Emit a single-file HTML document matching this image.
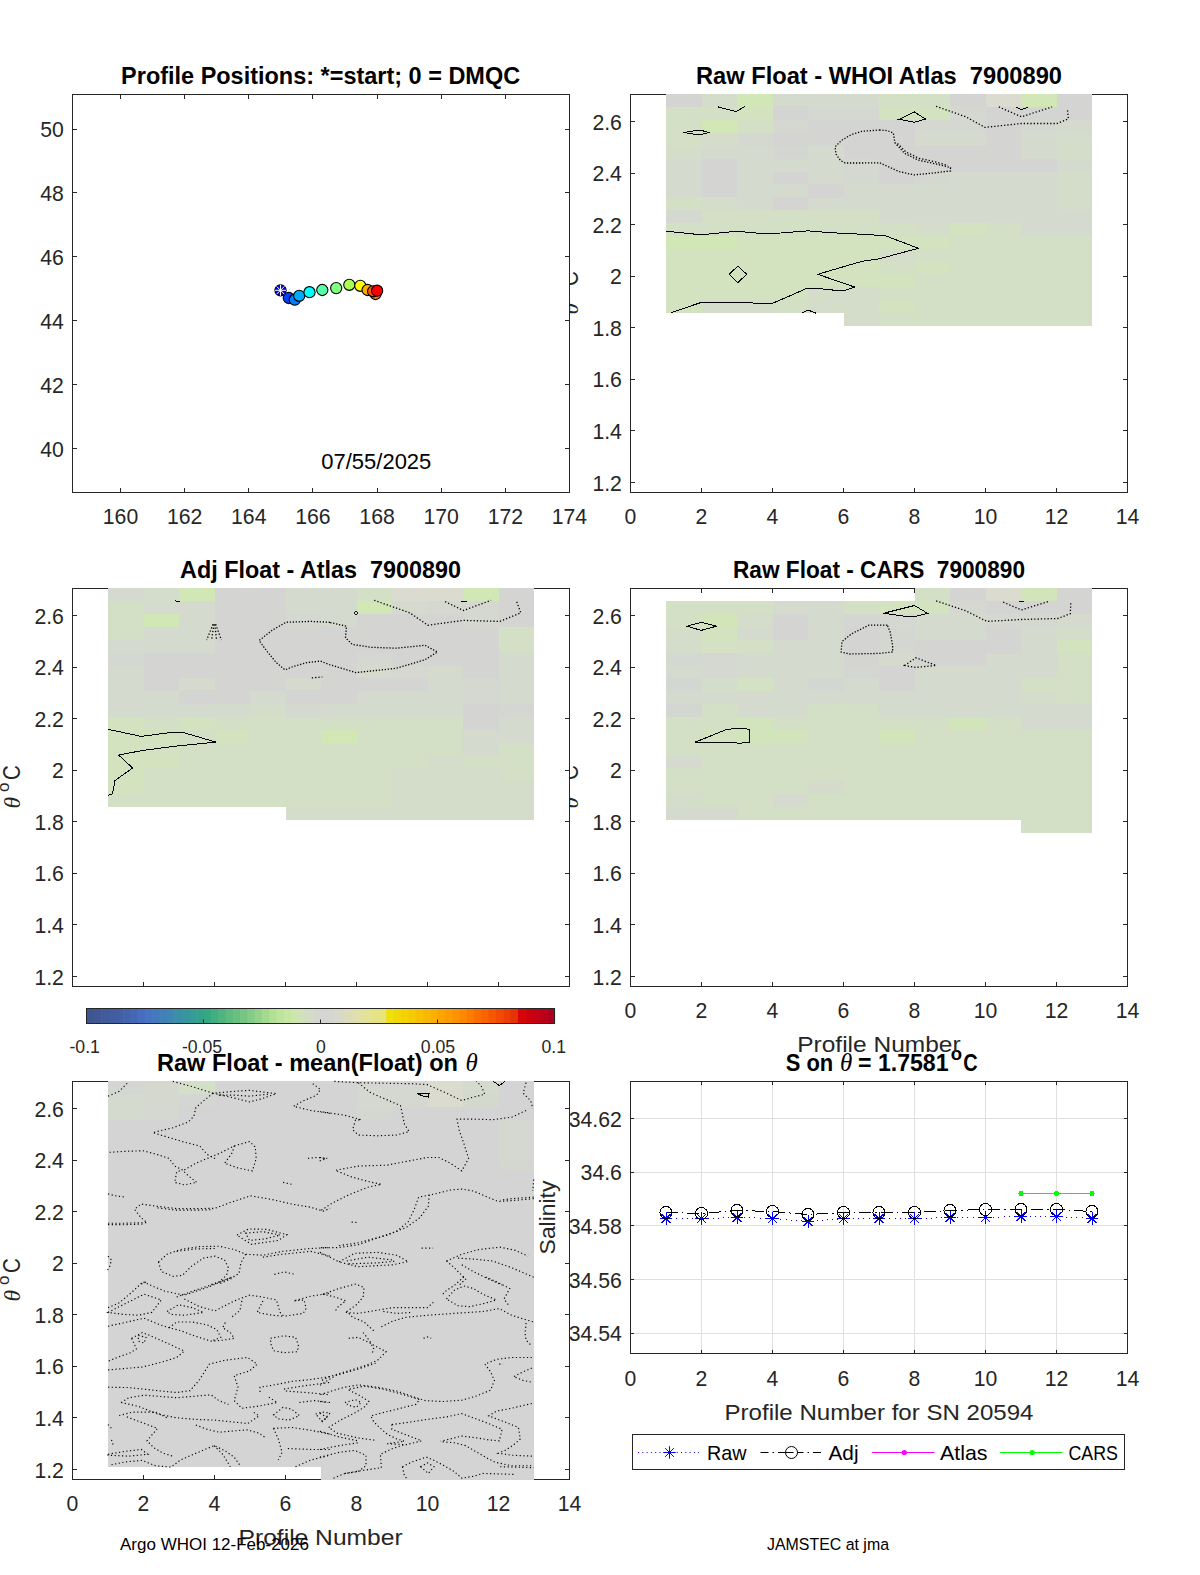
<!DOCTYPE html>
<html><head><meta charset="utf-8"><title>Float 7900890 diagnostic</title>
<style>
html,body{margin:0;padding:0;background:#fff}
body{width:1200px;height:1575px;overflow:hidden}
svg{display:block;font-family:"Liberation Sans",sans-serif}
.m{font-family:"Liberation Serif",serif;font-style:italic}
</style></head><body>
<svg width="1200" height="1575" viewBox="0 0 1200 1575">
<rect width="1200" height="1575" fill="#fff"/>
<g transform="translate(578 293.5) rotate(-90)" fill="#262626"><text x="-21" y="0" font-size="23.5" class="m">θ</text><text x="-4.4" y="-11.4" font-size="17">o</text><text x="7.4" y="0" font-size="24.5" textLength="14.8" lengthAdjust="spacingAndGlyphs">C</text></g>
<g transform="translate(578 787.5) rotate(-90)" fill="#262626"><text x="-21" y="0" font-size="23.5" class="m">θ</text><text x="-4.4" y="-11.4" font-size="17">o</text><text x="7.4" y="0" font-size="24.5" textLength="14.8" lengthAdjust="spacingAndGlyphs">C</text></g>
<text x="621.9" y="1126.6" font-size="22" text-anchor="end" fill="#262626" textLength="53.12" lengthAdjust="spacingAndGlyphs">34.62</text>
<text x="621.9" y="1180.3" font-size="22" text-anchor="end" fill="#262626" textLength="41.31" lengthAdjust="spacingAndGlyphs">34.6</text>
<text x="621.9" y="1234" font-size="22" text-anchor="end" fill="#262626" textLength="53.12" lengthAdjust="spacingAndGlyphs">34.58</text>
<text x="621.9" y="1287.7" font-size="22" text-anchor="end" fill="#262626" textLength="53.12" lengthAdjust="spacingAndGlyphs">34.56</text>
<text x="621.9" y="1341.4" font-size="22" text-anchor="end" fill="#262626" textLength="53.12" lengthAdjust="spacingAndGlyphs">34.54</text>
<text transform="translate(554.5 1217.5) rotate(-90)" font-size="22.9" text-anchor="middle" fill="#262626">Salinity</text>
<rect x="72.5" y="94.5" width="497" height="398" fill="#fff"/>
<rect x="72.5" y="588.5" width="497" height="398" fill="#fff"/>
<rect x="72.5" y="1081.5" width="497" height="398" fill="#fff"/>
<text transform="translate(554.5 1217.5) rotate(-90)" font-size="22.9" text-anchor="middle" fill="#262626">Salinity</text>
<path d="M630.5 492.5v-4.5M630.5 94.5v4.5M701.5 492.5v-4.5M701.5 94.5v4.5M772.5 492.5v-4.5M772.5 94.5v4.5M843.5 492.5v-4.5M843.5 94.5v4.5M914.5 492.5v-4.5M914.5 94.5v4.5M985.5 492.5v-4.5M985.5 94.5v4.5M1056.5 492.5v-4.5M1056.5 94.5v4.5M1127.5 492.5v-4.5M1127.5 94.5v4.5M630.5 121.5h4.5M1127.5 121.5h-4.5M630.5 173.5h4.5M1127.5 173.5h-4.5M630.5 224.5h4.5M1127.5 224.5h-4.5M630.5 276.5h4.5M1127.5 276.5h-4.5M630.5 327.5h4.5M1127.5 327.5h-4.5M630.5 379.5h4.5M1127.5 379.5h-4.5M630.5 430.5h4.5M1127.5 430.5h-4.5M630.5 482.5h4.5M1127.5 482.5h-4.5" stroke="#262626" stroke-width="1" fill="none"/>
<rect x="630.5" y="94.5" width="497" height="398" fill="none" stroke="#262626" stroke-width="1"/>
<path d="M72.5 986.5v-4.5M72.5 588.5v4.5M143.5 986.5v-4.5M143.5 588.5v4.5M214.5 986.5v-4.5M214.5 588.5v4.5M285.5 986.5v-4.5M285.5 588.5v4.5M356.5 986.5v-4.5M356.5 588.5v4.5M427.5 986.5v-4.5M427.5 588.5v4.5M498.5 986.5v-4.5M498.5 588.5v4.5M569.5 986.5v-4.5M569.5 588.5v4.5M72.5 615.5h4.5M569.5 615.5h-4.5M72.5 667.5h4.5M569.5 667.5h-4.5M72.5 718.5h4.5M569.5 718.5h-4.5M72.5 770.5h4.5M569.5 770.5h-4.5M72.5 821.5h4.5M569.5 821.5h-4.5M72.5 873.5h4.5M569.5 873.5h-4.5M72.5 924.5h4.5M569.5 924.5h-4.5M72.5 976.5h4.5M569.5 976.5h-4.5" stroke="#262626" stroke-width="1" fill="none"/>
<rect x="72.5" y="588.5" width="497" height="398" fill="none" stroke="#262626" stroke-width="1"/>
<path d="M630.5 986.5v-4.5M630.5 588.5v4.5M701.5 986.5v-4.5M701.5 588.5v4.5M772.5 986.5v-4.5M772.5 588.5v4.5M843.5 986.5v-4.5M843.5 588.5v4.5M914.5 986.5v-4.5M914.5 588.5v4.5M985.5 986.5v-4.5M985.5 588.5v4.5M1056.5 986.5v-4.5M1056.5 588.5v4.5M1127.5 986.5v-4.5M1127.5 588.5v4.5M630.5 615.5h4.5M1127.5 615.5h-4.5M630.5 667.5h4.5M1127.5 667.5h-4.5M630.5 718.5h4.5M1127.5 718.5h-4.5M630.5 770.5h4.5M1127.5 770.5h-4.5M630.5 821.5h4.5M1127.5 821.5h-4.5M630.5 873.5h4.5M1127.5 873.5h-4.5M630.5 924.5h4.5M1127.5 924.5h-4.5M630.5 976.5h4.5M1127.5 976.5h-4.5" stroke="#262626" stroke-width="1" fill="none"/>
<rect x="630.5" y="588.5" width="497" height="398" fill="none" stroke="#262626" stroke-width="1"/>
<path d="M72.5 1479.5v-4.5M72.5 1081.5v4.5M143.5 1479.5v-4.5M143.5 1081.5v4.5M214.5 1479.5v-4.5M214.5 1081.5v4.5M285.5 1479.5v-4.5M285.5 1081.5v4.5M356.5 1479.5v-4.5M356.5 1081.5v4.5M427.5 1479.5v-4.5M427.5 1081.5v4.5M498.5 1479.5v-4.5M498.5 1081.5v4.5M569.5 1479.5v-4.5M569.5 1081.5v4.5M72.5 1108.5h4.5M569.5 1108.5h-4.5M72.5 1160.5h4.5M569.5 1160.5h-4.5M72.5 1211.5h4.5M569.5 1211.5h-4.5M72.5 1263.5h4.5M569.5 1263.5h-4.5M72.5 1314.5h4.5M569.5 1314.5h-4.5M72.5 1366.5h4.5M569.5 1366.5h-4.5M72.5 1417.5h4.5M569.5 1417.5h-4.5M72.5 1469.5h4.5M569.5 1469.5h-4.5" stroke="#262626" stroke-width="1" fill="none"/>
<rect x="72.5" y="1081.5" width="497" height="398" fill="none" stroke="#262626" stroke-width="1"/>
<g shape-rendering="crispEdges">
<rect x="666" y="94.3" width="35.6" height="12.97" fill="rgb(212,213,211)"/>
<rect x="666" y="107.17" width="35.6" height="38.71" fill="rgb(212,224,197)"/>
<rect x="666" y="145.78" width="35.6" height="12.97" fill="rgb(212,221,201)"/>
<rect x="666" y="158.65" width="35.6" height="38.71" fill="rgb(212,218,205)"/>
<rect x="666" y="197.26" width="35.6" height="12.97" fill="rgb(212,224,197)"/>
<rect x="666" y="210.13" width="35.6" height="12.97" fill="rgb(212,216,208)"/>
<rect x="666" y="223" width="35.6" height="12.97" fill="rgb(212,224,197)"/>
<rect x="666" y="235.87" width="35.6" height="12.97" fill="rgb(209,231,182)"/>
<rect x="666" y="248.74" width="35.6" height="64.45" fill="rgb(211,227,191)"/>
<rect x="701.5" y="94.3" width="35.6" height="12.97" fill="rgb(212,221,201)"/>
<rect x="701.5" y="107.17" width="35.6" height="12.97" fill="rgb(212,224,197)"/>
<rect x="701.5" y="120.04" width="35.6" height="12.97" fill="rgb(209,231,182)"/>
<rect x="701.5" y="132.91" width="35.6" height="12.97" fill="rgb(212,221,201)"/>
<rect x="701.5" y="145.78" width="35.6" height="12.97" fill="rgb(212,218,205)"/>
<rect x="701.5" y="158.65" width="35.6" height="38.71" fill="rgb(212,213,211)"/>
<rect x="701.5" y="197.26" width="35.6" height="12.97" fill="rgb(212,221,201)"/>
<rect x="701.5" y="210.13" width="35.6" height="25.84" fill="rgb(212,224,197)"/>
<rect x="701.5" y="235.87" width="35.6" height="12.97" fill="rgb(209,231,182)"/>
<rect x="701.5" y="248.74" width="35.6" height="51.58" fill="rgb(211,227,191)"/>
<rect x="701.5" y="300.22" width="35.6" height="12.97" fill="rgb(212,221,201)"/>
<rect x="737" y="94.3" width="35.6" height="12.97" fill="rgb(209,231,182)"/>
<rect x="737" y="107.17" width="35.6" height="12.97" fill="rgb(211,227,191)"/>
<rect x="737" y="120.04" width="35.6" height="12.97" fill="rgb(212,224,197)"/>
<rect x="737" y="132.91" width="35.6" height="12.97" fill="rgb(212,216,208)"/>
<rect x="737" y="145.78" width="35.6" height="64.45" fill="rgb(212,218,205)"/>
<rect x="737" y="210.13" width="35.6" height="25.84" fill="rgb(212,224,197)"/>
<rect x="737" y="235.87" width="35.6" height="64.45" fill="rgb(211,227,191)"/>
<rect x="737" y="300.22" width="35.6" height="12.97" fill="rgb(212,221,201)"/>
<rect x="772.5" y="94.3" width="35.6" height="12.97" fill="rgb(212,218,205)"/>
<rect x="772.5" y="107.17" width="35.6" height="12.97" fill="rgb(212,213,211)"/>
<rect x="772.5" y="120.04" width="35.6" height="12.97" fill="rgb(212,216,208)"/>
<rect x="772.5" y="132.91" width="35.6" height="12.97" fill="rgb(212,213,211)"/>
<rect x="772.5" y="145.78" width="35.6" height="12.97" fill="rgb(212,215,209)"/>
<rect x="772.5" y="158.65" width="35.6" height="12.97" fill="rgb(212,218,205)"/>
<rect x="772.5" y="171.52" width="35.6" height="12.97" fill="rgb(212,213,211)"/>
<rect x="772.5" y="184.39" width="35.6" height="12.97" fill="rgb(212,218,205)"/>
<rect x="772.5" y="197.26" width="35.6" height="12.97" fill="rgb(212,213,211)"/>
<rect x="772.5" y="210.13" width="35.6" height="25.84" fill="rgb(212,224,197)"/>
<rect x="772.5" y="235.87" width="35.6" height="64.45" fill="rgb(211,227,191)"/>
<rect x="772.5" y="300.22" width="35.6" height="12.97" fill="rgb(212,224,197)"/>
<rect x="808" y="94.3" width="35.6" height="12.97" fill="rgb(212,218,205)"/>
<rect x="808" y="107.17" width="35.6" height="12.97" fill="rgb(212,216,208)"/>
<rect x="808" y="120.04" width="35.6" height="25.84" fill="rgb(212,213,211)"/>
<rect x="808" y="145.78" width="35.6" height="38.71" fill="rgb(212,218,205)"/>
<rect x="808" y="184.39" width="35.6" height="12.97" fill="rgb(212,213,211)"/>
<rect x="808" y="197.26" width="35.6" height="12.97" fill="rgb(212,218,205)"/>
<rect x="808" y="210.13" width="35.6" height="25.84" fill="rgb(212,224,197)"/>
<rect x="808" y="235.87" width="35.6" height="51.58" fill="rgb(211,227,191)"/>
<rect x="808" y="287.35" width="35.6" height="25.84" fill="rgb(212,221,201)"/>
<rect x="843.5" y="94.3" width="35.6" height="12.97" fill="rgb(212,218,205)"/>
<rect x="843.5" y="107.17" width="35.6" height="12.97" fill="rgb(212,216,208)"/>
<rect x="843.5" y="120.04" width="35.6" height="38.71" fill="rgb(212,213,211)"/>
<rect x="843.5" y="158.65" width="35.6" height="25.84" fill="rgb(212,216,208)"/>
<rect x="843.5" y="184.39" width="35.6" height="25.84" fill="rgb(212,218,205)"/>
<rect x="843.5" y="210.13" width="35.6" height="25.84" fill="rgb(212,224,197)"/>
<rect x="843.5" y="235.87" width="35.6" height="51.58" fill="rgb(211,227,191)"/>
<rect x="843.5" y="287.35" width="35.6" height="38.71" fill="rgb(212,221,201)"/>
<rect x="879" y="94.3" width="35.6" height="12.97" fill="rgb(212,224,197)"/>
<rect x="879" y="107.17" width="35.6" height="12.97" fill="rgb(211,227,191)"/>
<rect x="879" y="120.04" width="35.6" height="64.45" fill="rgb(212,213,211)"/>
<rect x="879" y="184.39" width="35.6" height="38.71" fill="rgb(212,218,205)"/>
<rect x="879" y="223" width="35.6" height="12.97" fill="rgb(212,224,197)"/>
<rect x="879" y="235.87" width="35.6" height="12.97" fill="rgb(211,227,191)"/>
<rect x="879" y="248.74" width="35.6" height="12.97" fill="rgb(212,221,201)"/>
<rect x="879" y="261.61" width="35.6" height="12.97" fill="rgb(212,224,197)"/>
<rect x="879" y="274.48" width="35.6" height="12.97" fill="rgb(211,227,191)"/>
<rect x="879" y="287.35" width="35.6" height="12.97" fill="rgb(212,224,197)"/>
<rect x="879" y="300.22" width="35.6" height="12.97" fill="rgb(211,227,191)"/>
<rect x="879" y="313.09" width="35.6" height="12.97" fill="rgb(212,224,197)"/>
<rect x="914.5" y="94.3" width="35.6" height="12.97" fill="rgb(212,224,197)"/>
<rect x="914.5" y="107.17" width="35.6" height="12.97" fill="rgb(211,227,191)"/>
<rect x="914.5" y="120.04" width="35.6" height="12.97" fill="rgb(212,216,208)"/>
<rect x="914.5" y="132.91" width="35.6" height="12.97" fill="rgb(212,218,205)"/>
<rect x="914.5" y="145.78" width="35.6" height="25.84" fill="rgb(212,213,211)"/>
<rect x="914.5" y="171.52" width="35.6" height="12.97" fill="rgb(212,216,208)"/>
<rect x="914.5" y="184.39" width="35.6" height="38.71" fill="rgb(212,218,205)"/>
<rect x="914.5" y="223" width="35.6" height="12.97" fill="rgb(212,221,201)"/>
<rect x="914.5" y="235.87" width="35.6" height="12.97" fill="rgb(211,227,191)"/>
<rect x="914.5" y="248.74" width="35.6" height="12.97" fill="rgb(212,224,197)"/>
<rect x="914.5" y="261.61" width="35.6" height="12.97" fill="rgb(211,227,191)"/>
<rect x="914.5" y="274.48" width="35.6" height="51.58" fill="rgb(212,224,197)"/>
<rect x="950" y="94.3" width="35.6" height="12.97" fill="rgb(212,213,211)"/>
<rect x="950" y="107.17" width="35.6" height="25.84" fill="rgb(212,216,208)"/>
<rect x="950" y="132.91" width="35.6" height="12.97" fill="rgb(212,218,205)"/>
<rect x="950" y="145.78" width="35.6" height="25.84" fill="rgb(212,213,211)"/>
<rect x="950" y="171.52" width="35.6" height="51.58" fill="rgb(212,218,205)"/>
<rect x="950" y="223" width="35.6" height="12.97" fill="rgb(211,227,191)"/>
<rect x="950" y="235.87" width="35.6" height="90.19" fill="rgb(212,224,197)"/>
<rect x="985.5" y="94.3" width="35.6" height="12.97" fill="rgb(219,219,207)"/>
<rect x="985.5" y="107.17" width="35.6" height="64.45" fill="rgb(212,213,211)"/>
<rect x="985.5" y="171.52" width="35.6" height="51.58" fill="rgb(212,218,205)"/>
<rect x="985.5" y="223" width="35.6" height="103.06" fill="rgb(212,224,197)"/>
<rect x="1021" y="94.3" width="35.6" height="12.97" fill="rgb(209,231,182)"/>
<rect x="1021" y="107.17" width="35.6" height="12.97" fill="rgb(212,213,211)"/>
<rect x="1021" y="120.04" width="35.6" height="12.97" fill="rgb(212,216,208)"/>
<rect x="1021" y="132.91" width="35.6" height="25.84" fill="rgb(212,218,205)"/>
<rect x="1021" y="158.65" width="35.6" height="12.97" fill="rgb(212,213,211)"/>
<rect x="1021" y="171.52" width="35.6" height="64.45" fill="rgb(212,218,205)"/>
<rect x="1021" y="235.87" width="35.6" height="90.19" fill="rgb(212,224,197)"/>
<rect x="1056.5" y="94.3" width="35.6" height="25.84" fill="rgb(212,213,211)"/>
<rect x="1056.5" y="120.04" width="35.6" height="12.97" fill="rgb(212,218,205)"/>
<rect x="1056.5" y="132.91" width="35.6" height="25.84" fill="rgb(212,221,201)"/>
<rect x="1056.5" y="158.65" width="35.6" height="12.97" fill="rgb(212,218,205)"/>
<rect x="1056.5" y="171.52" width="35.6" height="38.71" fill="rgb(212,221,201)"/>
<rect x="1056.5" y="210.13" width="35.6" height="25.84" fill="rgb(212,218,205)"/>
<rect x="1056.5" y="235.87" width="35.6" height="90.19" fill="rgb(212,224,197)"/>
<polyline points="666,231.2 701.3,234.8 737,231.2 760,233.4 781,233 808,230.8 828.7,232.6 863.5,234.3 885.3,235.7 918.3,248.3 879.6,258.7 861.7,261.4 817.7,274.3 854.7,287.1 845.2,290.2 834.2,290.2 817.7,288.4 806.7,288.4 784.7,298.1 771.8,303.6 755.3,303.6 751.7,302.7 700.3,302.7 671,312.8" fill="none" stroke="#000" stroke-width="1.0"/>
<polygon points="729.1,274.3 737.9,266 746.7,274.3 737.9,282.6" fill="none" stroke="#000" stroke-width="1.0"/>
<polyline points="718.1,106.9 736.1,111.6 744.7,106.5" fill="none" stroke="#000" stroke-width="1.0"/>
<polygon points="685.1,132.5 688.5,131.5 700.7,130.2 708.6,132.5 700.7,134.8 688.5,133.6" fill="none" stroke="#000" stroke-width="1.0"/>
<polyline points="802.1,312.8 808.1,310 815.8,313.1" fill="none" stroke="#000" stroke-width="1.0"/>
<polygon points="899.1,119.3 914.5,112 925.6,119.1 914.5,122.2" fill="none" stroke="#000" stroke-width="1.0"/>
<polyline points="1016.6,107.3 1021.4,109.6 1027.6,107.6" fill="none" stroke="#000" stroke-width="1.0"/>
<polygon points="880,130 861.7,131.3 850.7,134.9 841.5,140.4 835.1,146.8 836,154.2 840.6,160.6 845.2,163 861.7,163 879.6,162.8 898.8,171.5 914.1,174.9 935.2,172.8 950.5,170.9 950.5,167.6 935.2,163.8 917.9,160 904.5,153.3 894.9,142.7 893.4,133.1 887.3,130.6" fill="none" stroke="#000" stroke-width="1.3" stroke-dasharray="1.3 1.7" shape-rendering="geometricPrecision"/>
<polyline points="897.5,143.5 906,152 919,158.3 936,162 948,165.5" fill="none" stroke="#000" stroke-width="1.3" stroke-dasharray="1.3 2" shape-rendering="geometricPrecision"/>
<polyline points="936.1,106.3 965.8,116.8 985,127.4 1021.4,123.5 1056.9,123.5 1068.4,118.8 1067.4,109.2" fill="none" stroke="#000" stroke-width="1.3" stroke-dasharray="1.3 2" shape-rendering="geometricPrecision"/>
<polyline points="998.8,106.9 1021.4,116.8 1052.1,106.9" fill="none" stroke="#000" stroke-width="1.3" stroke-dasharray="1.3 2" shape-rendering="geometricPrecision"/>
<rect x="108" y="588.3" width="35.6" height="12.97" fill="rgb(212,218,205)"/>
<rect x="108" y="601.17" width="35.6" height="38.71" fill="rgb(212,224,197)"/>
<rect x="108" y="639.78" width="35.6" height="12.97" fill="rgb(212,218,205)"/>
<rect x="108" y="652.65" width="35.6" height="12.97" fill="rgb(212,216,208)"/>
<rect x="108" y="665.52" width="35.6" height="51.58" fill="rgb(212,218,205)"/>
<rect x="108" y="717" width="35.6" height="77.32" fill="rgb(211,227,191)"/>
<rect x="108" y="794.22" width="35.6" height="12.97" fill="rgb(212,224,197)"/>
<rect x="143.5" y="588.3" width="35.6" height="12.97" fill="rgb(212,221,201)"/>
<rect x="143.5" y="601.17" width="35.6" height="12.97" fill="rgb(212,218,205)"/>
<rect x="143.5" y="614.04" width="35.6" height="12.97" fill="rgb(209,231,182)"/>
<rect x="143.5" y="626.91" width="35.6" height="25.84" fill="rgb(212,218,205)"/>
<rect x="143.5" y="652.65" width="35.6" height="38.71" fill="rgb(212,213,211)"/>
<rect x="143.5" y="691.26" width="35.6" height="25.84" fill="rgb(212,218,205)"/>
<rect x="143.5" y="717" width="35.6" height="12.97" fill="rgb(212,224,197)"/>
<rect x="143.5" y="729.87" width="35.6" height="12.97" fill="rgb(211,227,191)"/>
<rect x="143.5" y="742.74" width="35.6" height="12.97" fill="rgb(212,225,195)"/>
<rect x="143.5" y="755.61" width="35.6" height="12.97" fill="rgb(211,227,191)"/>
<rect x="143.5" y="768.48" width="35.6" height="38.71" fill="rgb(212,224,197)"/>
<rect x="179" y="588.3" width="35.6" height="12.97" fill="rgb(209,231,182)"/>
<rect x="179" y="601.17" width="35.6" height="51.58" fill="rgb(212,218,205)"/>
<rect x="179" y="652.65" width="35.6" height="25.84" fill="rgb(212,213,211)"/>
<rect x="179" y="678.39" width="35.6" height="12.97" fill="rgb(212,218,205)"/>
<rect x="179" y="691.26" width="35.6" height="12.97" fill="rgb(212,213,211)"/>
<rect x="179" y="704.13" width="35.6" height="12.97" fill="rgb(212,218,205)"/>
<rect x="179" y="717" width="35.6" height="12.97" fill="rgb(211,227,191)"/>
<rect x="179" y="729.87" width="35.6" height="77.32" fill="rgb(212,224,197)"/>
<rect x="214.5" y="588.3" width="35.6" height="115.93" fill="rgb(212,213,211)"/>
<rect x="214.5" y="704.13" width="35.6" height="12.97" fill="rgb(212,218,205)"/>
<rect x="214.5" y="717" width="35.6" height="12.97" fill="rgb(212,224,197)"/>
<rect x="214.5" y="729.87" width="35.6" height="12.97" fill="rgb(211,227,191)"/>
<rect x="214.5" y="742.74" width="35.6" height="64.45" fill="rgb(212,224,197)"/>
<rect x="250" y="588.3" width="35.6" height="103.06" fill="rgb(212,213,211)"/>
<rect x="250" y="691.26" width="35.6" height="12.97" fill="rgb(212,218,205)"/>
<rect x="250" y="704.13" width="35.6" height="12.97" fill="rgb(212,221,201)"/>
<rect x="250" y="717" width="35.6" height="90.19" fill="rgb(212,224,197)"/>
<rect x="285.5" y="588.3" width="35.6" height="25.84" fill="rgb(212,218,205)"/>
<rect x="285.5" y="614.04" width="35.6" height="12.97" fill="rgb(212,216,208)"/>
<rect x="285.5" y="626.91" width="35.6" height="51.58" fill="rgb(212,213,211)"/>
<rect x="285.5" y="678.39" width="35.6" height="12.97" fill="rgb(212,218,205)"/>
<rect x="285.5" y="691.26" width="35.6" height="12.97" fill="rgb(212,213,211)"/>
<rect x="285.5" y="704.13" width="35.6" height="12.97" fill="rgb(212,216,208)"/>
<rect x="285.5" y="717" width="35.6" height="90.19" fill="rgb(212,224,197)"/>
<rect x="285.5" y="807.09" width="35.6" height="12.97" fill="rgb(212,221,201)"/>
<rect x="321" y="588.3" width="35.6" height="38.71" fill="rgb(212,218,205)"/>
<rect x="321" y="626.91" width="35.6" height="77.32" fill="rgb(212,213,211)"/>
<rect x="321" y="704.13" width="35.6" height="12.97" fill="rgb(212,218,205)"/>
<rect x="321" y="717" width="35.6" height="12.97" fill="rgb(212,224,197)"/>
<rect x="321" y="729.87" width="35.6" height="12.97" fill="rgb(209,231,182)"/>
<rect x="321" y="742.74" width="35.6" height="64.45" fill="rgb(212,224,197)"/>
<rect x="321" y="807.09" width="35.6" height="12.97" fill="rgb(212,221,201)"/>
<rect x="356.5" y="588.3" width="35.6" height="12.97" fill="rgb(212,224,197)"/>
<rect x="356.5" y="601.17" width="35.6" height="12.97" fill="rgb(209,231,182)"/>
<rect x="356.5" y="614.04" width="35.6" height="38.71" fill="rgb(212,213,211)"/>
<rect x="356.5" y="652.65" width="35.6" height="12.97" fill="rgb(212,216,208)"/>
<rect x="356.5" y="665.52" width="35.6" height="12.97" fill="rgb(212,218,205)"/>
<rect x="356.5" y="678.39" width="35.6" height="12.97" fill="rgb(212,213,211)"/>
<rect x="356.5" y="691.26" width="35.6" height="25.84" fill="rgb(212,218,205)"/>
<rect x="356.5" y="717" width="35.6" height="90.19" fill="rgb(212,224,197)"/>
<rect x="356.5" y="807.09" width="35.6" height="12.97" fill="rgb(212,221,201)"/>
<rect x="392" y="588.3" width="35.6" height="12.97" fill="rgb(219,219,207)"/>
<rect x="392" y="601.17" width="35.6" height="12.97" fill="rgb(212,218,205)"/>
<rect x="392" y="614.04" width="35.6" height="51.58" fill="rgb(212,213,211)"/>
<rect x="392" y="665.52" width="35.6" height="12.97" fill="rgb(212,216,208)"/>
<rect x="392" y="678.39" width="35.6" height="12.97" fill="rgb(212,213,211)"/>
<rect x="392" y="691.26" width="35.6" height="25.84" fill="rgb(212,218,205)"/>
<rect x="392" y="717" width="35.6" height="51.58" fill="rgb(212,224,197)"/>
<rect x="392" y="768.48" width="35.6" height="51.58" fill="rgb(212,220,202)"/>
<rect x="427.5" y="588.3" width="35.6" height="12.97" fill="rgb(219,219,207)"/>
<rect x="427.5" y="601.17" width="35.6" height="12.97" fill="rgb(212,216,208)"/>
<rect x="427.5" y="614.04" width="35.6" height="51.58" fill="rgb(212,213,211)"/>
<rect x="427.5" y="665.52" width="35.6" height="51.58" fill="rgb(212,218,205)"/>
<rect x="427.5" y="717" width="35.6" height="38.71" fill="rgb(212,224,197)"/>
<rect x="427.5" y="755.61" width="35.6" height="64.45" fill="rgb(212,220,202)"/>
<rect x="463" y="588.3" width="35.6" height="12.97" fill="rgb(209,231,182)"/>
<rect x="463" y="601.17" width="35.6" height="25.84" fill="rgb(212,216,208)"/>
<rect x="463" y="626.91" width="35.6" height="51.58" fill="rgb(212,213,211)"/>
<rect x="463" y="678.39" width="35.6" height="25.84" fill="rgb(212,216,208)"/>
<rect x="463" y="704.13" width="35.6" height="25.84" fill="rgb(212,213,211)"/>
<rect x="463" y="729.87" width="35.6" height="25.84" fill="rgb(212,218,205)"/>
<rect x="463" y="755.61" width="35.6" height="12.97" fill="rgb(212,224,197)"/>
<rect x="463" y="768.48" width="35.6" height="51.58" fill="rgb(212,220,202)"/>
<rect x="498.5" y="588.3" width="35.6" height="38.71" fill="rgb(212,213,211)"/>
<rect x="498.5" y="626.91" width="35.6" height="25.84" fill="rgb(212,224,197)"/>
<rect x="498.5" y="652.65" width="35.6" height="51.58" fill="rgb(212,218,205)"/>
<rect x="498.5" y="704.13" width="35.6" height="12.97" fill="rgb(212,215,209)"/>
<rect x="498.5" y="717" width="35.6" height="25.84" fill="rgb(212,218,205)"/>
<rect x="498.5" y="742.74" width="35.6" height="38.71" fill="rgb(212,224,197)"/>
<rect x="498.5" y="781.35" width="35.6" height="38.71" fill="rgb(212,220,202)"/>
<polyline points="108,729.3 141.2,736.4 174.8,732 181.5,732 216,742.1 176.7,746 143.1,750.4 118.6,755 132.6,768 115,780.5 112.5,793.9 108,795.4" fill="none" stroke="#000" stroke-width="1.0"/>
<polyline points="174.8,600.3 177.6,601.6 180.1,601.6" fill="none" stroke="#000" stroke-width="1.0"/>
<polyline points="213.03,624.3 206.7,640" fill="none" stroke="#000" stroke-width="1.3" stroke-dasharray="1.3 2" shape-rendering="geometricPrecision"/>
<polyline points="213.9,624.3 211.6,640" fill="none" stroke="#000" stroke-width="1.3" stroke-dasharray="1.3 2" shape-rendering="geometricPrecision"/>
<polyline points="214.78,624.3 216.5,640" fill="none" stroke="#000" stroke-width="1.3" stroke-dasharray="1.3 2" shape-rendering="geometricPrecision"/>
<polyline points="215.65,624.3 221.4,640" fill="none" stroke="#000" stroke-width="1.3" stroke-dasharray="1.3 2" shape-rendering="geometricPrecision"/>
<polygon points="330,622.3 310.9,621.4 285.9,622.3 272.5,630 259.1,640.5 266.8,651.1 276.3,662.6 285,669.9 293.6,666.4 307,662.6 320.4,661.1 329.2,664.5 356,672.6 396.3,668.3 425,659.7 437.5,652 425,645.3 396.3,648.2 371.3,647.3 352.2,644.4 345.5,637.7 346.4,626.2 329.2,622.3" fill="none" stroke="#000" stroke-width="1.3" stroke-dasharray="1.3 1.7" shape-rendering="geometricPrecision"/>
<polyline points="311.8,677.9 322.3,677" fill="none" stroke="#000" stroke-width="1.3" stroke-dasharray="1.3 2" shape-rendering="geometricPrecision"/>
<polyline points="374.2,600.3 409.7,612.8 427.9,625.2 463.3,620.4 499.8,621.4 520.8,612.8 516.6,601.3" fill="none" stroke="#000" stroke-width="1.3" stroke-dasharray="1.3 2" shape-rendering="geometricPrecision"/>
<polyline points="445.1,601.6 463.3,610.5 491.1,600.3" fill="none" stroke="#000" stroke-width="1.3" stroke-dasharray="1.3 2" shape-rendering="geometricPrecision"/>
<polyline points="461.4,601.6 467.2,601.6" fill="none" stroke="#000" stroke-width="1.0"/>
<circle cx="356" cy="613.1" r="1.4" fill="none" stroke="#000" stroke-width="0.9"/>
<rect x="666" y="601.17" width="35.6" height="25.84" fill="rgb(212,224,197)"/>
<rect x="666" y="626.91" width="35.6" height="25.84" fill="rgb(212,221,201)"/>
<rect x="666" y="652.65" width="35.6" height="12.97" fill="rgb(212,216,208)"/>
<rect x="666" y="665.52" width="35.6" height="12.97" fill="rgb(212,218,205)"/>
<rect x="666" y="678.39" width="35.6" height="12.97" fill="rgb(212,215,209)"/>
<rect x="666" y="691.26" width="35.6" height="12.97" fill="rgb(212,218,205)"/>
<rect x="666" y="704.13" width="35.6" height="12.97" fill="rgb(212,215,209)"/>
<rect x="666" y="717" width="35.6" height="38.71" fill="rgb(212,224,197)"/>
<rect x="666" y="755.61" width="35.6" height="12.97" fill="rgb(212,218,205)"/>
<rect x="666" y="768.48" width="35.6" height="25.84" fill="rgb(212,224,197)"/>
<rect x="666" y="794.22" width="35.6" height="12.97" fill="rgb(212,220,202)"/>
<rect x="666" y="807.09" width="35.6" height="12.97" fill="rgb(212,218,205)"/>
<rect x="701.5" y="601.17" width="35.6" height="12.97" fill="rgb(212,224,197)"/>
<rect x="701.5" y="614.04" width="35.6" height="12.97" fill="rgb(210,229,186)"/>
<rect x="701.5" y="626.91" width="35.6" height="12.97" fill="rgb(211,227,191)"/>
<rect x="701.5" y="639.78" width="35.6" height="12.97" fill="rgb(212,225,195)"/>
<rect x="701.5" y="652.65" width="35.6" height="25.84" fill="rgb(212,216,208)"/>
<rect x="701.5" y="678.39" width="35.6" height="12.97" fill="rgb(212,220,202)"/>
<rect x="701.5" y="691.26" width="35.6" height="12.97" fill="rgb(212,218,205)"/>
<rect x="701.5" y="704.13" width="35.6" height="25.84" fill="rgb(212,224,197)"/>
<rect x="701.5" y="729.87" width="35.6" height="12.97" fill="rgb(211,227,191)"/>
<rect x="701.5" y="742.74" width="35.6" height="64.45" fill="rgb(212,224,197)"/>
<rect x="701.5" y="807.09" width="35.6" height="12.97" fill="rgb(212,218,205)"/>
<rect x="737" y="601.17" width="35.6" height="12.97" fill="rgb(212,224,197)"/>
<rect x="737" y="614.04" width="35.6" height="12.97" fill="rgb(212,221,201)"/>
<rect x="737" y="626.91" width="35.6" height="12.97" fill="rgb(212,218,205)"/>
<rect x="737" y="639.78" width="35.6" height="12.97" fill="rgb(212,224,197)"/>
<rect x="737" y="652.65" width="35.6" height="25.84" fill="rgb(212,218,205)"/>
<rect x="737" y="678.39" width="35.6" height="12.97" fill="rgb(211,226,194)"/>
<rect x="737" y="691.26" width="35.6" height="25.84" fill="rgb(212,218,205)"/>
<rect x="737" y="717" width="35.6" height="12.97" fill="rgb(210,228,188)"/>
<rect x="737" y="729.87" width="35.6" height="12.97" fill="rgb(210,229,186)"/>
<rect x="737" y="742.74" width="35.6" height="77.32" fill="rgb(212,224,197)"/>
<rect x="772.5" y="601.17" width="35.6" height="12.97" fill="rgb(212,218,205)"/>
<rect x="772.5" y="614.04" width="35.6" height="25.84" fill="rgb(212,213,211)"/>
<rect x="772.5" y="639.78" width="35.6" height="77.32" fill="rgb(212,218,205)"/>
<rect x="772.5" y="717" width="35.6" height="12.97" fill="rgb(212,224,197)"/>
<rect x="772.5" y="729.87" width="35.6" height="12.97" fill="rgb(210,228,188)"/>
<rect x="772.5" y="742.74" width="35.6" height="51.58" fill="rgb(212,224,197)"/>
<rect x="772.5" y="794.22" width="35.6" height="12.97" fill="rgb(212,218,205)"/>
<rect x="772.5" y="807.09" width="35.6" height="12.97" fill="rgb(212,224,197)"/>
<rect x="808" y="601.17" width="35.6" height="77.32" fill="rgb(212,218,205)"/>
<rect x="808" y="678.39" width="35.6" height="12.97" fill="rgb(212,215,209)"/>
<rect x="808" y="691.26" width="35.6" height="12.97" fill="rgb(212,218,205)"/>
<rect x="808" y="704.13" width="35.6" height="77.32" fill="rgb(212,224,197)"/>
<rect x="808" y="781.35" width="35.6" height="12.97" fill="rgb(212,219,203)"/>
<rect x="808" y="794.22" width="35.6" height="25.84" fill="rgb(212,224,197)"/>
<rect x="843.5" y="601.17" width="35.6" height="12.97" fill="rgb(212,224,197)"/>
<rect x="843.5" y="614.04" width="35.6" height="12.97" fill="rgb(212,215,209)"/>
<rect x="843.5" y="626.91" width="35.6" height="38.71" fill="rgb(212,213,211)"/>
<rect x="843.5" y="665.52" width="35.6" height="12.97" fill="rgb(212,215,209)"/>
<rect x="843.5" y="678.39" width="35.6" height="25.84" fill="rgb(212,218,205)"/>
<rect x="843.5" y="704.13" width="35.6" height="115.93" fill="rgb(212,224,197)"/>
<rect x="879" y="601.17" width="35.6" height="12.97" fill="rgb(211,227,191)"/>
<rect x="879" y="614.04" width="35.6" height="12.97" fill="rgb(212,216,208)"/>
<rect x="879" y="626.91" width="35.6" height="25.84" fill="rgb(212,215,209)"/>
<rect x="879" y="652.65" width="35.6" height="12.97" fill="rgb(212,218,205)"/>
<rect x="879" y="665.52" width="35.6" height="25.84" fill="rgb(212,213,211)"/>
<rect x="879" y="691.26" width="35.6" height="25.84" fill="rgb(212,218,205)"/>
<rect x="879" y="717" width="35.6" height="12.97" fill="rgb(212,224,197)"/>
<rect x="879" y="729.87" width="35.6" height="12.97" fill="rgb(210,229,186)"/>
<rect x="879" y="742.74" width="35.6" height="77.32" fill="rgb(212,224,197)"/>
<rect x="914.5" y="588.3" width="35.6" height="12.97" fill="rgb(212,224,197)"/>
<rect x="914.5" y="601.17" width="35.6" height="12.97" fill="rgb(211,227,191)"/>
<rect x="914.5" y="614.04" width="35.6" height="25.84" fill="rgb(212,218,205)"/>
<rect x="914.5" y="639.78" width="35.6" height="25.84" fill="rgb(212,213,211)"/>
<rect x="914.5" y="665.52" width="35.6" height="51.58" fill="rgb(212,218,205)"/>
<rect x="914.5" y="717" width="35.6" height="103.06" fill="rgb(212,224,197)"/>
<rect x="950" y="588.3" width="35.6" height="12.97" fill="rgb(212,213,211)"/>
<rect x="950" y="601.17" width="35.6" height="12.97" fill="rgb(212,216,208)"/>
<rect x="950" y="614.04" width="35.6" height="25.84" fill="rgb(212,218,205)"/>
<rect x="950" y="639.78" width="35.6" height="25.84" fill="rgb(212,213,211)"/>
<rect x="950" y="665.52" width="35.6" height="51.58" fill="rgb(212,218,205)"/>
<rect x="950" y="717" width="35.6" height="12.97" fill="rgb(210,229,186)"/>
<rect x="950" y="729.87" width="35.6" height="90.19" fill="rgb(212,224,197)"/>
<rect x="985.5" y="588.3" width="35.6" height="12.97" fill="rgb(219,219,207)"/>
<rect x="985.5" y="601.17" width="35.6" height="12.97" fill="rgb(212,213,211)"/>
<rect x="985.5" y="614.04" width="35.6" height="12.97" fill="rgb(212,216,208)"/>
<rect x="985.5" y="626.91" width="35.6" height="25.84" fill="rgb(212,213,211)"/>
<rect x="985.5" y="652.65" width="35.6" height="64.45" fill="rgb(212,218,205)"/>
<rect x="985.5" y="717" width="35.6" height="103.06" fill="rgb(212,224,197)"/>
<rect x="1021" y="588.3" width="35.6" height="12.97" fill="rgb(210,229,186)"/>
<rect x="1021" y="601.17" width="35.6" height="12.97" fill="rgb(212,213,211)"/>
<rect x="1021" y="614.04" width="35.6" height="12.97" fill="rgb(212,216,208)"/>
<rect x="1021" y="626.91" width="35.6" height="51.58" fill="rgb(212,218,205)"/>
<rect x="1021" y="678.39" width="35.6" height="12.97" fill="rgb(212,224,197)"/>
<rect x="1021" y="691.26" width="35.6" height="12.97" fill="rgb(212,220,202)"/>
<rect x="1021" y="704.13" width="35.6" height="25.84" fill="rgb(212,218,205)"/>
<rect x="1021" y="729.87" width="35.6" height="103.06" fill="rgb(212,224,197)"/>
<rect x="1056.5" y="588.3" width="35.6" height="25.84" fill="rgb(212,213,211)"/>
<rect x="1056.5" y="614.04" width="35.6" height="12.97" fill="rgb(212,218,205)"/>
<rect x="1056.5" y="626.91" width="35.6" height="12.97" fill="rgb(212,221,201)"/>
<rect x="1056.5" y="639.78" width="35.6" height="12.97" fill="rgb(211,227,191)"/>
<rect x="1056.5" y="652.65" width="35.6" height="51.58" fill="rgb(212,224,197)"/>
<rect x="1056.5" y="704.13" width="35.6" height="25.84" fill="rgb(212,218,205)"/>
<rect x="1056.5" y="729.87" width="35.6" height="103.06" fill="rgb(212,224,197)"/>
<polygon points="687.1,626.2 701.1,622.3 716.5,626.2 701.1,630.4" fill="none" stroke="#000" stroke-width="1.0"/>
<polygon points="695.4,742.1 727,729.3 744.3,728.1 749.6,729.7 749.6,742.3 741.4,743.1" fill="none" stroke="#000" stroke-width="1.0"/>
<polygon points="883.4,613.3 914.5,605.5 927.5,613.3 914.5,616.6 904.5,616.2" fill="none" stroke="#000" stroke-width="1.0"/>
<polygon points="887.3,625.2 868.9,625.2 851.6,633.8 842,641.5 841.1,652 849.7,654 879.6,653.4 892.6,652 892.6,645.3 890.1,631.9" fill="none" stroke="#000" stroke-width="1.3" stroke-dasharray="1.3 1.7" shape-rendering="geometricPrecision"/>
<polygon points="904.5,665.5 916,657.8 936.1,665.5 916,667.4" fill="none" stroke="#000" stroke-width="1.3" stroke-dasharray="1.3 2" shape-rendering="geometricPrecision"/>
<polyline points="936.1,600.9 965.8,610.8 986.9,621.4 1021.4,619.5 1057.8,618.5 1070.3,613.7 1070.9,601.3" fill="none" stroke="#000" stroke-width="1.3" stroke-dasharray="1.3 2" shape-rendering="geometricPrecision"/>
<polyline points="1003.2,602.2 1021.4,609.9 1049.2,601.3" fill="none" stroke="#000" stroke-width="1.3" stroke-dasharray="1.3 2" shape-rendering="geometricPrecision"/>
<polyline points="1019.1,601.3 1024.3,601.3" fill="none" stroke="#000" stroke-width="1.0"/>
<rect x="108" y="1081.3" width="213.2" height="385.7" fill="rgb(212,212,212)"/>
<rect x="321" y="1081.3" width="213" height="398.2" fill="rgb(212,212,212)"/>
<rect x="108" y="1081.3" width="35.6" height="12.97" fill="rgb(212,215,209)"/>
<rect x="108" y="1094.17" width="35.6" height="25.84" fill="rgb(212,218,205)"/>
<rect x="143.5" y="1081.3" width="35.6" height="25.84" fill="rgb(212,216,207)"/>
<rect x="143.5" y="1107.04" width="35.6" height="12.97" fill="rgb(212,216,208)"/>
<rect x="179" y="1081.3" width="35.6" height="12.97" fill="rgb(212,223,199)"/>
<rect x="179" y="1094.17" width="35.6" height="12.97" fill="rgb(212,214,210)"/>
<rect x="356.5" y="1081.3" width="35.6" height="25.84" fill="rgb(212,216,208)"/>
<rect x="356.5" y="1107.04" width="35.6" height="12.97" fill="rgb(212,215,209)"/>
<rect x="392" y="1081.3" width="35.6" height="25.84" fill="rgb(212,216,208)"/>
<rect x="427.5" y="1081.3" width="35.6" height="25.84" fill="rgb(219,219,207)"/>
<rect x="463" y="1081.3" width="35.6" height="12.97" fill="rgb(212,218,205)"/>
<rect x="463" y="1094.17" width="35.6" height="12.97" fill="rgb(212,217,206)"/>
<rect x="498.5" y="1119.91" width="35.6" height="38.71" fill="rgb(212,216,208)"/>
<rect x="498.5" y="1158.52" width="35.6" height="12.97" fill="rgb(212,215,208)"/>
<polyline points="108.05,1096.13 119.17,1091.33 127.79,1082.71" fill="none" stroke="#000" stroke-width="1.15" stroke-dasharray="1.2 2.5" shape-rendering="geometricPrecision"/>
<polyline points="172.84,1081.37 192.01,1086.54 213.09,1093.25 234.18,1091.33 249.51,1090.38 276.35,1093.63 261.01,1099 249.51,1101.88 234.18,1098.04 213.09,1093.25" fill="none" stroke="#000" stroke-width="1.15" stroke-dasharray="1.2 2.5" shape-rendering="geometricPrecision"/>
<polyline points="218.84,1095.17 234.18,1095.17 249.51,1096.13 268.68,1094.21" fill="none" stroke="#000" stroke-width="1.15" stroke-dasharray="1.2 2.5" shape-rendering="geometricPrecision"/>
<polyline points="213.09,1093.25 203.51,1100.92 195.84,1107.63 193.92,1116.25 188.17,1122 172.84,1127.75 152.71,1132.55 165.17,1136.38 184.34,1142.13 199.67,1145.96 207.34,1154.59 215.01,1158.42" fill="none" stroke="#000" stroke-width="1.15" stroke-dasharray="1.2 2.5" shape-rendering="geometricPrecision"/>
<polyline points="109.58,1152.29 124.92,1151.33 143.13,1150.76 157.5,1154.59 169.01,1158.42 174.76,1166.09 182.42,1169.92 188.17,1175.67 196.8,1182.38 184.34,1184.87 174.76,1182.38 176.67,1171.84 182.42,1169.92" fill="none" stroke="#000" stroke-width="1.15" stroke-dasharray="1.2 2.5" shape-rendering="geometricPrecision"/>
<polyline points="184.34,1169.92 195.84,1163.21 207.34,1158.42 218.84,1153.63 234.18,1145.96 249.51,1141.55 255.26,1146.92 256.22,1158.42 252.39,1170.88 238.01,1168.01 224.59,1163.21 232.26,1152.67 234.18,1145.96" fill="none" stroke="#000" stroke-width="1.15" stroke-dasharray="1.2 2.5" shape-rendering="geometricPrecision"/>
<polyline points="307.97,1158.42 316.6,1157.46 327.14,1158.42 318.52,1161.3" fill="none" stroke="#000" stroke-width="1.15" stroke-dasharray="1.2 2.5" shape-rendering="geometricPrecision"/>
<polyline points="283.06,1182.38 291.68,1184.3" fill="none" stroke="#000" stroke-width="1.15" stroke-dasharray="1.2 2.5" shape-rendering="geometricPrecision"/>
<polyline points="108.05,1193.88 115.33,1195.8 125.88,1197.14" fill="none" stroke="#000" stroke-width="1.15" stroke-dasharray="1.2 2.5" shape-rendering="geometricPrecision"/>
<polyline points="108.05,1223.21 124.92,1223.21 146.96,1222.64 141.21,1217.84 137.38,1213.05 134.5,1209.22 141.21,1204.04 157.5,1206.34 176.67,1208.64 195.84,1208.64 215.01,1208.26 230.34,1202.51 250.47,1195.8 272.51,1199.63 291.68,1204.04 310.85,1207.3 323.31,1211.14 330.02,1208.26" fill="none" stroke="#000" stroke-width="1.15" stroke-dasharray="1.2 2.5" shape-rendering="geometricPrecision"/>
<polyline points="108.05,1224.55 124.92,1224.74 144.09,1223.98" fill="none" stroke="#000" stroke-width="1.15" stroke-dasharray="1.2 2.5" shape-rendering="geometricPrecision"/>
<polyline points="157.5,1207.88 176.67,1210.18 195.84,1210.18 213.09,1209.6" fill="none" stroke="#000" stroke-width="1.15" stroke-dasharray="1.2 2.5" shape-rendering="geometricPrecision"/>
<polyline points="274.43,1274.39 284.01,1271.9 295.51,1274.39" fill="none" stroke="#000" stroke-width="1.15" stroke-dasharray="1.2 2.5" shape-rendering="geometricPrecision"/>
<polyline points="312.77,1083.67 320.43,1089.42 316.6,1095.17 303.18,1100.92 293.6,1106.29 310.85,1110.5 330.02,1113.38" fill="none" stroke="#000" stroke-width="1.15" stroke-dasharray="1.2 2.5" shape-rendering="geometricPrecision"/>
<polyline points="108.05,1256.18 111.5,1260.01 109.58,1266.72 107.28,1270.56" fill="none" stroke="#000" stroke-width="1.15" stroke-dasharray="1.2 2.5" shape-rendering="geometricPrecision"/>
<polyline points="141.21,1283.97 146,1282.06" fill="none" stroke="#000" stroke-width="1.15" stroke-dasharray="1.2 2.5" shape-rendering="geometricPrecision"/>
<polyline points="158.46,1261.93 167.09,1254.26 180.51,1249.47 199.67,1246.6 218.84,1246.21 234.18,1249.47 245.68,1254.26 262.93,1255.22 282.1,1251.39 310.85,1248.51 330.02,1247.55" fill="none" stroke="#000" stroke-width="1.15" stroke-dasharray="1.2 2.5" shape-rendering="geometricPrecision"/>
<polyline points="176.67,1251.39 195.84,1248.9 215.01,1248.51" fill="none" stroke="#000" stroke-width="1.15" stroke-dasharray="1.2 2.5" shape-rendering="geometricPrecision"/>
<polyline points="158.46,1261.93 161.34,1271.51 172.84,1276.31 182.42,1275.35 192.01,1265.76 203.51,1258.1 215.01,1256.18 224.59,1260.01 228.43,1267.68 226.51,1275.35 218.84,1282.06 209.26,1284.93" fill="none" stroke="#000" stroke-width="1.15" stroke-dasharray="1.2 2.5" shape-rendering="geometricPrecision"/>
<polyline points="245.68,1254.26 240.89,1262.89 238.97,1273.43 230.34,1279.18 218.84,1283.97" fill="none" stroke="#000" stroke-width="1.15" stroke-dasharray="1.2 2.5" shape-rendering="geometricPrecision"/>
<polyline points="262.93,1257.14 282.1,1254.26 310.85,1251.39 330.02,1256.18" fill="none" stroke="#000" stroke-width="1.15" stroke-dasharray="1.2 2.5" shape-rendering="geometricPrecision"/>
<polygon points="237.05,1235.1 248.55,1228.96 266.76,1229.34 286.89,1234.71 278.26,1240.46 251.43,1244.3 242.8,1238.93" fill="none" stroke="#000" stroke-width="1.15" stroke-dasharray="1.2 2.5" shape-rendering="geometricPrecision"/>
<polygon points="245.68,1233.18 262.93,1231.65 280.18,1235.1 264.85,1238.93 249.51,1240.46" fill="none" stroke="#000" stroke-width="1.15" stroke-dasharray="1.2 2.5" shape-rendering="geometricPrecision"/>
<polyline points="334.38,1081.37 358.34,1082.71 387.09,1083.28 412.01,1083.67 427.34,1084.63 444.59,1092.29 461.84,1100.54 473.34,1097.08 484.85,1094.21 481.01,1085.58 476.22,1081.37" fill="none" stroke="#000" stroke-width="1.15" stroke-dasharray="1.2 2.5" shape-rendering="geometricPrecision"/>
<polyline points="358.34,1082.71 369.84,1092.29 385.17,1099 400.51,1105.71 402.42,1114.34 404.34,1123.92 409.13,1131.59 396.67,1135.04 377.5,1135.8 358.34,1135.04 352.59,1129.67 355.46,1120.09 361.21,1119.7 344.92,1115.29 320,1111.46" fill="none" stroke="#000" stroke-width="1.15" stroke-dasharray="1.2 2.5" shape-rendering="geometricPrecision"/>
<polyline points="526.06,1082.71 523.18,1093.25 530.85,1100.92 532.77,1108.59" fill="none" stroke="#000" stroke-width="1.15" stroke-dasharray="1.2 2.5" shape-rendering="geometricPrecision"/>
<polyline points="526.06,1110.5 511.68,1117.21 492.51,1119.7 473.34,1119.13 457.05,1119.13 458.97,1129.67 463.76,1143.09 468.55,1158.42 461.84,1170.88 450.34,1163.21 438.84,1157.46 427.34,1157.46 412.01,1160.34 387.09,1165.13 358.34,1166.09 335.33,1170.31 350.67,1176.63 367.92,1181.42 381.34,1184.3 367.92,1187.18 348.75,1194.84 331.5,1203.47 320,1211.14" fill="none" stroke="#000" stroke-width="1.15" stroke-dasharray="1.2 2.5" shape-rendering="geometricPrecision"/>
<polyline points="320,1157.46 326.71,1158.81" fill="none" stroke="#000" stroke-width="1.15" stroke-dasharray="1.2 2.5" shape-rendering="geometricPrecision"/>
<polyline points="533.72,1198.68 511.68,1200.59 498.26,1201.55 486.76,1196.76 473.34,1191.01 461.84,1189.09 450.34,1190.05 435.01,1193.88 418.72,1197.14 413.92,1210.18 408.17,1221.68 396.67,1231.26 377.5,1237.97 358.34,1244.68 339.17,1247.55 320,1247.55" fill="none" stroke="#000" stroke-width="1.15" stroke-dasharray="1.2 2.5" shape-rendering="geometricPrecision"/>
<polyline points="429.26,1194.84 428.3,1206.34 419.67,1217.84 406.26,1227.43 387.09,1235.1 358.34,1242.76 339.17,1245.64" fill="none" stroke="#000" stroke-width="1.15" stroke-dasharray="1.2 2.5" shape-rendering="geometricPrecision"/>
<polyline points="533.72,1197.14 511.68,1198.68 500.18,1200.21" fill="none" stroke="#000" stroke-width="1.15" stroke-dasharray="1.2 2.5" shape-rendering="geometricPrecision"/>
<polyline points="351.63,1222.06 357.38,1222.64" fill="none" stroke="#000" stroke-width="1.15" stroke-dasharray="1.2 2.5" shape-rendering="geometricPrecision"/>
<polyline points="421.59,1248.13 433.09,1248.13" fill="none" stroke="#000" stroke-width="1.15" stroke-dasharray="1.2 2.5" shape-rendering="geometricPrecision"/>
<polyline points="320,1252.35 333.42,1259.06 339.17,1261.93" fill="none" stroke="#000" stroke-width="1.15" stroke-dasharray="1.2 2.5" shape-rendering="geometricPrecision"/>
<polyline points="346.84,1260.97 367.92,1257.14 392.84,1260.01" fill="none" stroke="#000" stroke-width="1.15" stroke-dasharray="1.2 2.5" shape-rendering="geometricPrecision"/>
<polyline points="348.75,1263.85 377.5,1262.89 396.67,1260.97" fill="none" stroke="#000" stroke-width="1.15" stroke-dasharray="1.2 2.5" shape-rendering="geometricPrecision"/>
<polyline points="446.51,1260.97 461.84,1254.26 479.1,1249.47 500.18,1247.17 515.51,1250.43 527.97,1256.18" fill="none" stroke="#000" stroke-width="1.15" stroke-dasharray="1.2 2.5" shape-rendering="geometricPrecision"/>
<polyline points="446.51,1260.97 454.18,1267.68 461.84,1275.35 465.68,1279.18 458.01,1286.08" fill="none" stroke="#000" stroke-width="1.15" stroke-dasharray="1.2 2.5" shape-rendering="geometricPrecision"/>
<polyline points="458.01,1258.1 473.34,1259.06 492.51,1260.97 511.68,1267.68 533.72,1277.27" fill="none" stroke="#000" stroke-width="1.15" stroke-dasharray="1.2 2.5" shape-rendering="geometricPrecision"/>
<polyline points="461.84,1264.81 473.34,1271.51 484.85,1277.27 502.1,1284.93" fill="none" stroke="#000" stroke-width="1.15" stroke-dasharray="1.2 2.5" shape-rendering="geometricPrecision"/>
<polyline points="533.72,1179.51 532.77,1191.01" fill="none" stroke="#000" stroke-width="1.15" stroke-dasharray="1.2 2.5" shape-rendering="geometricPrecision"/>
<polygon points="339.17,1261.93 354.5,1253.3 377.5,1252.35 396.67,1255.22 408.17,1261.55 392.84,1264.81 358.34,1266.72" fill="none" stroke="#000" stroke-width="1.15" stroke-dasharray="1.2 2.5" shape-rendering="geometricPrecision"/>
<polygon points="416.8,1093.63 429.26,1093.25 428.3,1097.08 423.51,1096.13" fill="none" stroke="#000" stroke-width="1.0"/>
<polyline points="493.47,1081.37 499.22,1085.58 504.97,1081.37" fill="none" stroke="#000" stroke-width="1.0"/>
<polyline points="108.05,1307.63 119.17,1302.84 130.67,1293.25 143.13,1281.75 153.67,1286.54 165.17,1291.33 184.34,1295.17 207.34,1287.5 234.18,1276" fill="none" stroke="#000" stroke-width="1.15" stroke-dasharray="1.2 2.5" shape-rendering="geometricPrecision"/>
<polyline points="184.34,1299 199.67,1306.67 215.01,1310.89 234.18,1300.92 249.51,1295.17 262.93,1297.08 276.35,1299.96 280.18,1312.42 284.01,1316.25 303.18,1313.38 306.06,1308.59 304.14,1299.96 293.6,1300.92 310.85,1296.13 330.02,1293.25" fill="none" stroke="#000" stroke-width="1.15" stroke-dasharray="1.2 2.5" shape-rendering="geometricPrecision"/>
<polyline points="241.84,1300.92 239.93,1310.5 230.34,1318.17" fill="none" stroke="#000" stroke-width="1.15" stroke-dasharray="1.2 2.5" shape-rendering="geometricPrecision"/>
<polyline points="262.93,1300.92 257.18,1312.42 272.51,1315.29 284.01,1316.25" fill="none" stroke="#000" stroke-width="1.15" stroke-dasharray="1.2 2.5" shape-rendering="geometricPrecision"/>
<polyline points="108.05,1326.22 123,1322.96 144.09,1318.17 157.5,1323.92 169.01,1327.75 180.51,1330.63 195.84,1336.38 211.18,1341.17 222.68,1340.21 234.18,1338.3 230.34,1332.55 222.68,1327.75 225.55,1322" fill="none" stroke="#000" stroke-width="1.15" stroke-dasharray="1.2 2.5" shape-rendering="geometricPrecision"/>
<polyline points="169.01,1327.75 176.67,1322 192.01,1322 207.34,1324.88 216.93,1329.67 220.76,1337.34 211.18,1341.17" fill="none" stroke="#000" stroke-width="1.15" stroke-dasharray="1.2 2.5" shape-rendering="geometricPrecision"/>
<polyline points="131.63,1338.3 142.17,1332.55 149.84,1335.42 167.09,1343.09 184.34,1351.14 176.67,1357.46 161.34,1362.26 142.17,1367.05 119.17,1368.97 108.05,1369.92" fill="none" stroke="#000" stroke-width="1.15" stroke-dasharray="1.2 2.5" shape-rendering="geometricPrecision"/>
<polyline points="131.63,1338.3 136.42,1348.84 130.67,1352.67 117.25,1357.46 108.05,1361.3" fill="none" stroke="#000" stroke-width="1.15" stroke-dasharray="1.2 2.5" shape-rendering="geometricPrecision"/>
<polyline points="108.05,1387.18 128.75,1387.56 157.5,1390.63 176.67,1392.54 190.09,1390.63 199.67,1379.51 209.26,1364.17 224.59,1360.34 247.59,1357.46 257.18,1364.17 249.51,1370.88 234.18,1375.67 238.01,1387.18 234.18,1400.59 241.84,1408.26 257.18,1406.34 277.3,1402.51 266.76,1395.8" fill="none" stroke="#000" stroke-width="1.15" stroke-dasharray="1.2 2.5" shape-rendering="geometricPrecision"/>
<polyline points="121.08,1402.51 128.75,1397.72 144.09,1395.23 176.67,1397.72 211.18,1394.84 218.84,1400.59 228.43,1404.43" fill="none" stroke="#000" stroke-width="1.15" stroke-dasharray="1.2 2.5" shape-rendering="geometricPrecision"/>
<polyline points="121.08,1402.51 138.34,1406.34 157.5,1414.01 176.67,1417.84 195.84,1419.38 215.01,1420.14 234.18,1422.06 247.59,1423.59 259.1,1415.93 253.34,1412.09" fill="none" stroke="#000" stroke-width="1.15" stroke-dasharray="1.2 2.5" shape-rendering="geometricPrecision"/>
<polyline points="119.17,1415.54 132.59,1412.09 155.59,1412.09 167.09,1417.84" fill="none" stroke="#000" stroke-width="1.15" stroke-dasharray="1.2 2.5" shape-rendering="geometricPrecision"/>
<polyline points="126.84,1416.89 142.17,1422.64 157.5,1428.39 151.75,1435.1 146.96,1440.85 153.67,1447.55 163.25,1453.3 172.84,1456.18" fill="none" stroke="#000" stroke-width="1.15" stroke-dasharray="1.2 2.5" shape-rendering="geometricPrecision"/>
<polyline points="195.84,1425.13 207.34,1429.34 218.84,1432.22 234.18,1430.88 247.59,1429.92 259.1,1433.18 265.8,1437.97" fill="none" stroke="#000" stroke-width="1.15" stroke-dasharray="1.2 2.5" shape-rendering="geometricPrecision"/>
<polyline points="111.5,1464.81 124.92,1461.93 142.17,1460.4 155.59,1465.76 170.92,1467.11 180.51,1460.01 195.84,1453.3 214.05,1445.64 224.59,1450.43 234.18,1457.14 240.89,1466.72" fill="none" stroke="#000" stroke-width="1.15" stroke-dasharray="1.2 2.5" shape-rendering="geometricPrecision"/>
<polyline points="214.05,1445.64 222.68,1454.26 230.34,1466.72" fill="none" stroke="#000" stroke-width="1.15" stroke-dasharray="1.2 2.5" shape-rendering="geometricPrecision"/>
<polyline points="260.05,1391.97 260.05,1387.18 272.51,1385.26 291.68,1381.42 310.85,1379.51 330.02,1376.63" fill="none" stroke="#000" stroke-width="1.15" stroke-dasharray="1.2 2.5" shape-rendering="geometricPrecision"/>
<polyline points="284.01,1389.09 301.27,1386.22 330.02,1382.38" fill="none" stroke="#000" stroke-width="1.15" stroke-dasharray="1.2 2.5" shape-rendering="geometricPrecision"/>
<polyline points="285.93,1391.01 310.85,1392.93 330.02,1394.84" fill="none" stroke="#000" stroke-width="1.15" stroke-dasharray="1.2 2.5" shape-rendering="geometricPrecision"/>
<polyline points="299.35,1402.51 314.68,1400.59 330.02,1402.51" fill="none" stroke="#000" stroke-width="1.15" stroke-dasharray="1.2 2.5" shape-rendering="geometricPrecision"/>
<polyline points="273.47,1428.39 291.68,1427.43 310.85,1430.3 330.02,1434.14" fill="none" stroke="#000" stroke-width="1.15" stroke-dasharray="1.2 2.5" shape-rendering="geometricPrecision"/>
<polyline points="273.47,1428.39 278.26,1438.93 282.1,1452.35 278.26,1460.01" fill="none" stroke="#000" stroke-width="1.15" stroke-dasharray="1.2 2.5" shape-rendering="geometricPrecision"/>
<polyline points="287.85,1448.51 310.85,1449.47 330.02,1449.47" fill="none" stroke="#000" stroke-width="1.15" stroke-dasharray="1.2 2.5" shape-rendering="geometricPrecision"/>
<polyline points="295.51,1466.72 310.85,1460.01 330.02,1455.22" fill="none" stroke="#000" stroke-width="1.15" stroke-dasharray="1.2 2.5" shape-rendering="geometricPrecision"/>
<polyline points="108.05,1424.55 111.5,1428.39" fill="none" stroke="#000" stroke-width="1.15" stroke-dasharray="1.2 2.5" shape-rendering="geometricPrecision"/>
<polyline points="111.5,1439.89 113.42,1445.64" fill="none" stroke="#000" stroke-width="1.15" stroke-dasharray="1.2 2.5" shape-rendering="geometricPrecision"/>
<polyline points="176.67,1297.08 192.01,1291.33 215.01,1283.67 230.34,1277.92" fill="none" stroke="#000" stroke-width="1.15" stroke-dasharray="1.2 2.5" shape-rendering="geometricPrecision"/>
<polygon points="108.05,1312.42 119.17,1306.67 144.09,1294.21 161.34,1299.96 151.75,1312.42 138.34,1315.29 123,1314.34" fill="none" stroke="#000" stroke-width="1.15" stroke-dasharray="1.2 2.5" shape-rendering="geometricPrecision"/>
<polygon points="167.09,1311.46 178.59,1304.75 192.01,1307.63 203.51,1312.42 184.34,1315.29 170.92,1314.34" fill="none" stroke="#000" stroke-width="1.15" stroke-dasharray="1.2 2.5" shape-rendering="geometricPrecision"/>
<polygon points="138.34,1335.42 146,1337.34 144.09,1343.09 138.34,1341.17" fill="none" stroke="#000" stroke-width="1.15" stroke-dasharray="1.2 2.5" shape-rendering="geometricPrecision"/>
<polygon points="270.6,1338.3 284.01,1335.8 295.51,1337.34 298.39,1345.01 297.43,1351.71 284.01,1352.67 273.47,1350.76 270.6,1343.09" fill="none" stroke="#000" stroke-width="1.15" stroke-dasharray="1.2 2.5" shape-rendering="geometricPrecision"/>
<polygon points="108.05,1454.26 124.92,1451.39 141.21,1449.47 147.92,1454.26 128.75,1456.18 108.05,1455.22" fill="none" stroke="#000" stroke-width="1.15" stroke-dasharray="1.2 2.5" shape-rendering="geometricPrecision"/>
<polygon points="273.47,1414.97 283.06,1407.3 291.68,1409.22 299.35,1415.54 288.81,1420.14 278.26,1418.8" fill="none" stroke="#000" stroke-width="1.15" stroke-dasharray="1.2 2.5" shape-rendering="geometricPrecision"/>
<polygon points="315.64,1414.01 322.35,1412.09 330.02,1413.05 322.35,1421.68" fill="none" stroke="#000" stroke-width="1.15" stroke-dasharray="1.2 2.5" shape-rendering="geometricPrecision"/>
<polyline points="322.88,1294.21 339.17,1288.46 355.46,1284.05 364.09,1287.5 363.13,1297.08 356.42,1304.75 346.84,1311.46 352.59,1317.21 364.09,1322 374.63,1331.59" fill="none" stroke="#000" stroke-width="1.15" stroke-dasharray="1.2 2.5" shape-rendering="geometricPrecision"/>
<polyline points="322.88,1294.21 335.33,1297.08 345.88,1300.92 338.21,1306.67 334.38,1312.42" fill="none" stroke="#000" stroke-width="1.15" stroke-dasharray="1.2 2.5" shape-rendering="geometricPrecision"/>
<polyline points="345.88,1312.42 358.34,1313.38 375.59,1310.5 392.84,1307.63 412.01,1307.63 427.34,1307.63 435.01,1300.92" fill="none" stroke="#000" stroke-width="1.15" stroke-dasharray="1.2 2.5" shape-rendering="geometricPrecision"/>
<polyline points="381.34,1326.8 392.84,1321.05 406.26,1317.21 427.34,1315.29 454.18,1313.38 482.93,1311.46 499.22,1308.59 511.68,1315.29 527.02,1320.09 533.72,1322" fill="none" stroke="#000" stroke-width="1.15" stroke-dasharray="1.2 2.5" shape-rendering="geometricPrecision"/>
<polyline points="383.25,1311.46 396.67,1313.38 412.01,1312.42" fill="none" stroke="#000" stroke-width="1.15" stroke-dasharray="1.2 2.5" shape-rendering="geometricPrecision"/>
<polyline points="463.76,1276.96 454.18,1285.58 446.51,1290.38 441.72,1295.17" fill="none" stroke="#000" stroke-width="1.15" stroke-dasharray="1.2 2.5" shape-rendering="geometricPrecision"/>
<polyline points="485.8,1276.96 496.35,1281.75 509.76,1288.46 504.01,1299 509.76,1306.67" fill="none" stroke="#000" stroke-width="1.15" stroke-dasharray="1.2 2.5" shape-rendering="geometricPrecision"/>
<polyline points="423.51,1338.3 427.34,1336.95 431.18,1338.3" fill="none" stroke="#000" stroke-width="1.15" stroke-dasharray="1.2 2.5" shape-rendering="geometricPrecision"/>
<polyline points="348.75,1338.3 358.34,1337.34 369.84,1343.09 386.13,1351.71 377.5,1360.34 364.09,1366.09 344.92,1371.84 329.58,1376.63 320,1381.42" fill="none" stroke="#000" stroke-width="1.15" stroke-dasharray="1.2 2.5" shape-rendering="geometricPrecision"/>
<polyline points="363.13,1332.55 369.84,1341.17 373.67,1348.84 371.75,1354.59" fill="none" stroke="#000" stroke-width="1.15" stroke-dasharray="1.2 2.5" shape-rendering="geometricPrecision"/>
<polyline points="320,1385.26 335.33,1375.67 358.34,1368.97 375.59,1363.21" fill="none" stroke="#000" stroke-width="1.15" stroke-dasharray="1.2 2.5" shape-rendering="geometricPrecision"/>
<polyline points="526.06,1322.96 525.1,1333.5 526.06,1340.21 531.81,1345.96" fill="none" stroke="#000" stroke-width="1.15" stroke-dasharray="1.2 2.5" shape-rendering="geometricPrecision"/>
<polyline points="531.81,1357.46 511.68,1357.46 496.35,1359.38 484.85,1364.17 490.6,1371.84 494.43,1380.47 490.6,1390.05 477.18,1395.8 461.84,1400.21 442.68,1401.55 425.42,1400.59 415.84,1397.72 396.67,1391.01 377.5,1387.18 358.34,1384.87 344.92,1387.18 331.5,1391.01 320,1394.84" fill="none" stroke="#000" stroke-width="1.15" stroke-dasharray="1.2 2.5" shape-rendering="geometricPrecision"/>
<polyline points="499.22,1364.17 503.06,1364.17" fill="none" stroke="#000" stroke-width="1.15" stroke-dasharray="1.2 2.5" shape-rendering="geometricPrecision"/>
<polyline points="531.81,1368.01 521.27,1372.8 513.6,1376.63 523.18,1380.47 532.77,1382.38" fill="none" stroke="#000" stroke-width="1.15" stroke-dasharray="1.2 2.5" shape-rendering="geometricPrecision"/>
<polyline points="349.71,1389.09 364.09,1386.22 383.25,1389.09 404.34,1394.84 419.67,1399.63 415.84,1404.43 400.51,1408.26 377.5,1414.01 370.8,1415.93 373.67,1421.68 379.42,1427.43 387.09,1434.14 396.67,1438.93 404.34,1441.23 387.09,1443.72" fill="none" stroke="#000" stroke-width="1.15" stroke-dasharray="1.2 2.5" shape-rendering="geometricPrecision"/>
<polyline points="348.75,1390.05 360.25,1395.8 368.88,1401.55 364.09,1407.3 354.5,1413.05 341.08,1419.76 328.63,1427.43 337.25,1433.18 358.34,1437.97 376.55,1440.46" fill="none" stroke="#000" stroke-width="1.15" stroke-dasharray="1.2 2.5" shape-rendering="geometricPrecision"/>
<polyline points="320,1431.26 339.17,1437.01 358.34,1440.85" fill="none" stroke="#000" stroke-width="1.15" stroke-dasharray="1.2 2.5" shape-rendering="geometricPrecision"/>
<polyline points="320,1401.55 327.67,1402.51" fill="none" stroke="#000" stroke-width="1.15" stroke-dasharray="1.2 2.5" shape-rendering="geometricPrecision"/>
<polyline points="320,1413.05 327.67,1417.84 320,1421.68" fill="none" stroke="#000" stroke-width="1.15" stroke-dasharray="1.2 2.5" shape-rendering="geometricPrecision"/>
<polyline points="391.88,1424.55 406.26,1422.64 427.34,1419.38 446.51,1416.89 461.84,1413.63 473.34,1417.84 488.68,1423.59 502.1,1429.34 499.22,1440.85 488.68,1439.89 477.18,1437.97 461.84,1436.05 450.34,1438.93 440.76,1441.23" fill="none" stroke="#000" stroke-width="1.15" stroke-dasharray="1.2 2.5" shape-rendering="geometricPrecision"/>
<polyline points="391.88,1424.55 391.88,1429.34 404.34,1434.14 421.59,1440.85 406.26,1444.68 387.09,1443.72" fill="none" stroke="#000" stroke-width="1.15" stroke-dasharray="1.2 2.5" shape-rendering="geometricPrecision"/>
<polyline points="531.81,1403.47 511.68,1408.26 496.35,1411.14 488.68,1415.93 504.01,1421.68 518.39,1427.43 520.31,1438.93 512.64,1445.64 504.97,1450.43 498.26,1453.3 511.68,1455.22 532.77,1456.18" fill="none" stroke="#000" stroke-width="1.15" stroke-dasharray="1.2 2.5" shape-rendering="geometricPrecision"/>
<polyline points="442.68,1441.8 454.18,1442.76 465.68,1445.64 477.18,1452.35 488.68,1459.06 495.39,1462.31 511.68,1465.76 533.72,1465.76" fill="none" stroke="#000" stroke-width="1.15" stroke-dasharray="1.2 2.5" shape-rendering="geometricPrecision"/>
<polyline points="500.18,1466.72 533.72,1467.68" fill="none" stroke="#000" stroke-width="1.15" stroke-dasharray="1.2 2.5" shape-rendering="geometricPrecision"/>
<polyline points="320,1449.47 339.17,1445.64 358.34,1442.76" fill="none" stroke="#000" stroke-width="1.15" stroke-dasharray="1.2 2.5" shape-rendering="geometricPrecision"/>
<polyline points="320,1457.14 339.17,1452.35 354.5,1450.43 366,1455.22 366,1465.76 358.34,1471.51 344.92,1473.43 333.42,1478.22" fill="none" stroke="#000" stroke-width="1.15" stroke-dasharray="1.2 2.5" shape-rendering="geometricPrecision"/>
<polyline points="381.34,1467.68 380.38,1454.26 392.84,1448.51 404.34,1444.68" fill="none" stroke="#000" stroke-width="1.15" stroke-dasharray="1.2 2.5" shape-rendering="geometricPrecision"/>
<polyline points="344.92,1473.43 362.17,1470.56 381.34,1467.68" fill="none" stroke="#000" stroke-width="1.15" stroke-dasharray="1.2 2.5" shape-rendering="geometricPrecision"/>
<polyline points="402.42,1466.72 412.01,1461.93 426.38,1457.14 433.09,1460.01 442.68,1464.81 454.18,1471.51 461.84,1478.22 473.34,1476.31 482.93,1473.43 513.6,1474.39" fill="none" stroke="#000" stroke-width="1.15" stroke-dasharray="1.2 2.5" shape-rendering="geometricPrecision"/>
<polyline points="402.42,1466.72 404.34,1475.35 407.21,1479.18" fill="none" stroke="#000" stroke-width="1.15" stroke-dasharray="1.2 2.5" shape-rendering="geometricPrecision"/>
<polygon points="446.51,1299 454.18,1290.38 463.76,1285.97 473.34,1288.46 482.93,1294.21 496.35,1299.96 482.93,1303.79 469.51,1306.67 458.01,1305.71" fill="none" stroke="#000" stroke-width="1.15" stroke-dasharray="1.2 2.5" shape-rendering="geometricPrecision"/>
<polygon points="344.92,1402.51 355.46,1399.63 361.21,1402.51 356.42,1407.3 348.75,1405.38" fill="none" stroke="#000" stroke-width="1.15" stroke-dasharray="1.2 2.5" shape-rendering="geometricPrecision"/>
<polygon points="420.63,1466.72 427.34,1462.89 434.05,1466.72 428.3,1473.43" fill="none" stroke="#000" stroke-width="1.15" stroke-dasharray="1.2 2.5" shape-rendering="geometricPrecision"/>
</g>
<circle cx="280.5" cy="290.3" r="5.6" fill="#0000ff" stroke="#000" stroke-width="1.1"/>
<circle cx="288.8" cy="298" r="5.6" fill="#0040ff" stroke="#000" stroke-width="1.1"/>
<circle cx="294.8" cy="299.7" r="5.6" fill="#0080ff" stroke="#000" stroke-width="1.1"/>
<circle cx="299.2" cy="295.8" r="5.6" fill="#00aaff" stroke="#000" stroke-width="1.1"/>
<circle cx="309.5" cy="292.2" r="5.6" fill="#00ffff" stroke="#000" stroke-width="1.1"/>
<circle cx="322.3" cy="290" r="5.6" fill="#55ffaa" stroke="#000" stroke-width="1.1"/>
<circle cx="336.2" cy="288.1" r="5.6" fill="#80ff80" stroke="#000" stroke-width="1.1"/>
<circle cx="349.3" cy="284.8" r="5.6" fill="#aaff55" stroke="#000" stroke-width="1.1"/>
<circle cx="360.3" cy="285.8" r="5.6" fill="#ffff00" stroke="#000" stroke-width="1.1"/>
<circle cx="367.6" cy="290" r="5.6" fill="#ffaa00" stroke="#000" stroke-width="1.1"/>
<circle cx="375.5" cy="294" r="5.6" fill="#ff8000" stroke="#000" stroke-width="1.1"/>
<circle cx="373.1" cy="291.3" r="5.6" fill="#ff5500" stroke="#000" stroke-width="1.1"/>
<circle cx="377.1" cy="290.7" r="5.6" fill="#ff0000" stroke="#000" stroke-width="1.1"/>
<path d="M275 290.3L286 290.3M280.5 284.8L280.5 295.8M276.6 286.4L284.4 294.2M276.6 294.2L284.4 286.4" stroke="#fff" stroke-width="1"/>
<text x="376.3" y="468.6" font-size="22.3" text-anchor="middle" fill="#000" textLength="110" lengthAdjust="spacingAndGlyphs">07/55/2025</text>
<path d="M120.5 492.5v-4.5M120.5 94.5v4.5M184.5 492.5v-4.5M184.5 94.5v4.5M248.5 492.5v-4.5M248.5 94.5v4.5M312.5 492.5v-4.5M312.5 94.5v4.5M377.5 492.5v-4.5M377.5 94.5v4.5M441.5 492.5v-4.5M441.5 94.5v4.5M505.5 492.5v-4.5M505.5 94.5v4.5M569.5 492.5v-4.5M569.5 94.5v4.5M72.5 129.5h4.5M569.5 129.5h-4.5M72.5 192.5h4.5M569.5 192.5h-4.5M72.5 256.5h4.5M569.5 256.5h-4.5M72.5 320.5h4.5M569.5 320.5h-4.5M72.5 384.5h4.5M569.5 384.5h-4.5M72.5 448.5h4.5M569.5 448.5h-4.5" stroke="#262626" stroke-width="1" fill="none"/>
<rect x="72.5" y="94.5" width="497" height="398" fill="none" stroke="#262626" stroke-width="1"/>
<text x="120.5" y="524.2" font-size="22" text-anchor="middle" fill="#262626" textLength="35.41" lengthAdjust="spacingAndGlyphs">160</text>
<text x="184.64" y="524.2" font-size="22" text-anchor="middle" fill="#262626" textLength="35.41" lengthAdjust="spacingAndGlyphs">162</text>
<text x="248.78" y="524.2" font-size="22" text-anchor="middle" fill="#262626" textLength="35.41" lengthAdjust="spacingAndGlyphs">164</text>
<text x="312.92" y="524.2" font-size="22" text-anchor="middle" fill="#262626" textLength="35.41" lengthAdjust="spacingAndGlyphs">166</text>
<text x="377.06" y="524.2" font-size="22" text-anchor="middle" fill="#262626" textLength="35.41" lengthAdjust="spacingAndGlyphs">168</text>
<text x="441.2" y="524.2" font-size="22" text-anchor="middle" fill="#262626" textLength="35.41" lengthAdjust="spacingAndGlyphs">170</text>
<text x="505.34" y="524.2" font-size="22" text-anchor="middle" fill="#262626" textLength="35.41" lengthAdjust="spacingAndGlyphs">172</text>
<text x="569.48" y="524.2" font-size="22" text-anchor="middle" fill="#262626" textLength="35.41" lengthAdjust="spacingAndGlyphs">174</text>
<text x="63.9" y="137.15" font-size="22" text-anchor="end" fill="#262626" textLength="23.61" lengthAdjust="spacingAndGlyphs">50</text>
<text x="63.9" y="201.03" font-size="22" text-anchor="end" fill="#262626" textLength="23.61" lengthAdjust="spacingAndGlyphs">48</text>
<text x="63.9" y="264.91" font-size="22" text-anchor="end" fill="#262626" textLength="23.61" lengthAdjust="spacingAndGlyphs">46</text>
<text x="63.9" y="328.79" font-size="22" text-anchor="end" fill="#262626" textLength="23.61" lengthAdjust="spacingAndGlyphs">44</text>
<text x="63.9" y="392.67" font-size="22" text-anchor="end" fill="#262626" textLength="23.61" lengthAdjust="spacingAndGlyphs">42</text>
<text x="63.9" y="456.55" font-size="22" text-anchor="end" fill="#262626" textLength="23.61" lengthAdjust="spacingAndGlyphs">40</text>
<text x="630.5" y="524.2" font-size="22" text-anchor="middle" fill="#262626" textLength="11.8" lengthAdjust="spacingAndGlyphs">0</text>
<text x="701.5" y="524.2" font-size="22" text-anchor="middle" fill="#262626" textLength="11.8" lengthAdjust="spacingAndGlyphs">2</text>
<text x="772.5" y="524.2" font-size="22" text-anchor="middle" fill="#262626" textLength="11.8" lengthAdjust="spacingAndGlyphs">4</text>
<text x="843.5" y="524.2" font-size="22" text-anchor="middle" fill="#262626" textLength="11.8" lengthAdjust="spacingAndGlyphs">6</text>
<text x="914.5" y="524.2" font-size="22" text-anchor="middle" fill="#262626" textLength="11.8" lengthAdjust="spacingAndGlyphs">8</text>
<text x="985.5" y="524.2" font-size="22" text-anchor="middle" fill="#262626" textLength="23.61" lengthAdjust="spacingAndGlyphs">10</text>
<text x="1056.5" y="524.2" font-size="22" text-anchor="middle" fill="#262626" textLength="23.61" lengthAdjust="spacingAndGlyphs">12</text>
<text x="1127.5" y="524.2" font-size="22" text-anchor="middle" fill="#262626" textLength="23.61" lengthAdjust="spacingAndGlyphs">14</text>
<text x="621.9" y="129.55" font-size="22" text-anchor="end" fill="#262626" textLength="29.51" lengthAdjust="spacingAndGlyphs">2.6</text>
<text x="621.9" y="181.12" font-size="22" text-anchor="end" fill="#262626" textLength="29.51" lengthAdjust="spacingAndGlyphs">2.4</text>
<text x="621.9" y="232.69" font-size="22" text-anchor="end" fill="#262626" textLength="29.51" lengthAdjust="spacingAndGlyphs">2.2</text>
<text x="621.9" y="284.27" font-size="22" text-anchor="end" fill="#262626" textLength="11.8" lengthAdjust="spacingAndGlyphs">2</text>
<text x="621.9" y="335.84" font-size="22" text-anchor="end" fill="#262626" textLength="29.51" lengthAdjust="spacingAndGlyphs">1.8</text>
<text x="621.9" y="387.41" font-size="22" text-anchor="end" fill="#262626" textLength="29.51" lengthAdjust="spacingAndGlyphs">1.6</text>
<text x="621.9" y="438.98" font-size="22" text-anchor="end" fill="#262626" textLength="29.51" lengthAdjust="spacingAndGlyphs">1.4</text>
<text x="621.9" y="490.55" font-size="22" text-anchor="end" fill="#262626" textLength="29.51" lengthAdjust="spacingAndGlyphs">1.2</text>
<text x="63.9" y="623.55" font-size="22" text-anchor="end" fill="#262626" textLength="29.51" lengthAdjust="spacingAndGlyphs">2.6</text>
<text x="63.9" y="675.12" font-size="22" text-anchor="end" fill="#262626" textLength="29.51" lengthAdjust="spacingAndGlyphs">2.4</text>
<text x="63.9" y="726.69" font-size="22" text-anchor="end" fill="#262626" textLength="29.51" lengthAdjust="spacingAndGlyphs">2.2</text>
<text x="63.9" y="778.27" font-size="22" text-anchor="end" fill="#262626" textLength="11.8" lengthAdjust="spacingAndGlyphs">2</text>
<text x="63.9" y="829.84" font-size="22" text-anchor="end" fill="#262626" textLength="29.51" lengthAdjust="spacingAndGlyphs">1.8</text>
<text x="63.9" y="881.41" font-size="22" text-anchor="end" fill="#262626" textLength="29.51" lengthAdjust="spacingAndGlyphs">1.6</text>
<text x="63.9" y="932.98" font-size="22" text-anchor="end" fill="#262626" textLength="29.51" lengthAdjust="spacingAndGlyphs">1.4</text>
<text x="63.9" y="984.55" font-size="22" text-anchor="end" fill="#262626" textLength="29.51" lengthAdjust="spacingAndGlyphs">1.2</text>
<text x="630.5" y="1018.2" font-size="22" text-anchor="middle" fill="#262626" textLength="11.8" lengthAdjust="spacingAndGlyphs">0</text>
<text x="701.5" y="1018.2" font-size="22" text-anchor="middle" fill="#262626" textLength="11.8" lengthAdjust="spacingAndGlyphs">2</text>
<text x="772.5" y="1018.2" font-size="22" text-anchor="middle" fill="#262626" textLength="11.8" lengthAdjust="spacingAndGlyphs">4</text>
<text x="843.5" y="1018.2" font-size="22" text-anchor="middle" fill="#262626" textLength="11.8" lengthAdjust="spacingAndGlyphs">6</text>
<text x="914.5" y="1018.2" font-size="22" text-anchor="middle" fill="#262626" textLength="11.8" lengthAdjust="spacingAndGlyphs">8</text>
<text x="985.5" y="1018.2" font-size="22" text-anchor="middle" fill="#262626" textLength="23.61" lengthAdjust="spacingAndGlyphs">10</text>
<text x="1056.5" y="1018.2" font-size="22" text-anchor="middle" fill="#262626" textLength="23.61" lengthAdjust="spacingAndGlyphs">12</text>
<text x="1127.5" y="1018.2" font-size="22" text-anchor="middle" fill="#262626" textLength="23.61" lengthAdjust="spacingAndGlyphs">14</text>
<text x="621.9" y="623.55" font-size="22" text-anchor="end" fill="#262626" textLength="29.51" lengthAdjust="spacingAndGlyphs">2.6</text>
<text x="621.9" y="675.12" font-size="22" text-anchor="end" fill="#262626" textLength="29.51" lengthAdjust="spacingAndGlyphs">2.4</text>
<text x="621.9" y="726.69" font-size="22" text-anchor="end" fill="#262626" textLength="29.51" lengthAdjust="spacingAndGlyphs">2.2</text>
<text x="621.9" y="778.27" font-size="22" text-anchor="end" fill="#262626" textLength="11.8" lengthAdjust="spacingAndGlyphs">2</text>
<text x="621.9" y="829.84" font-size="22" text-anchor="end" fill="#262626" textLength="29.51" lengthAdjust="spacingAndGlyphs">1.8</text>
<text x="621.9" y="881.41" font-size="22" text-anchor="end" fill="#262626" textLength="29.51" lengthAdjust="spacingAndGlyphs">1.6</text>
<text x="621.9" y="932.98" font-size="22" text-anchor="end" fill="#262626" textLength="29.51" lengthAdjust="spacingAndGlyphs">1.4</text>
<text x="621.9" y="984.55" font-size="22" text-anchor="end" fill="#262626" textLength="29.51" lengthAdjust="spacingAndGlyphs">1.2</text>
<text x="72.5" y="1511.2" font-size="22" text-anchor="middle" fill="#262626" textLength="11.8" lengthAdjust="spacingAndGlyphs">0</text>
<text x="143.5" y="1511.2" font-size="22" text-anchor="middle" fill="#262626" textLength="11.8" lengthAdjust="spacingAndGlyphs">2</text>
<text x="214.5" y="1511.2" font-size="22" text-anchor="middle" fill="#262626" textLength="11.8" lengthAdjust="spacingAndGlyphs">4</text>
<text x="285.5" y="1511.2" font-size="22" text-anchor="middle" fill="#262626" textLength="11.8" lengthAdjust="spacingAndGlyphs">6</text>
<text x="356.5" y="1511.2" font-size="22" text-anchor="middle" fill="#262626" textLength="11.8" lengthAdjust="spacingAndGlyphs">8</text>
<text x="427.5" y="1511.2" font-size="22" text-anchor="middle" fill="#262626" textLength="23.61" lengthAdjust="spacingAndGlyphs">10</text>
<text x="498.5" y="1511.2" font-size="22" text-anchor="middle" fill="#262626" textLength="23.61" lengthAdjust="spacingAndGlyphs">12</text>
<text x="569.5" y="1511.2" font-size="22" text-anchor="middle" fill="#262626" textLength="23.61" lengthAdjust="spacingAndGlyphs">14</text>
<text x="63.9" y="1116.55" font-size="22" text-anchor="end" fill="#262626" textLength="29.51" lengthAdjust="spacingAndGlyphs">2.6</text>
<text x="63.9" y="1168.12" font-size="22" text-anchor="end" fill="#262626" textLength="29.51" lengthAdjust="spacingAndGlyphs">2.4</text>
<text x="63.9" y="1219.69" font-size="22" text-anchor="end" fill="#262626" textLength="29.51" lengthAdjust="spacingAndGlyphs">2.2</text>
<text x="63.9" y="1271.27" font-size="22" text-anchor="end" fill="#262626" textLength="11.8" lengthAdjust="spacingAndGlyphs">2</text>
<text x="63.9" y="1322.84" font-size="22" text-anchor="end" fill="#262626" textLength="29.51" lengthAdjust="spacingAndGlyphs">1.8</text>
<text x="63.9" y="1374.41" font-size="22" text-anchor="end" fill="#262626" textLength="29.51" lengthAdjust="spacingAndGlyphs">1.6</text>
<text x="63.9" y="1425.98" font-size="22" text-anchor="end" fill="#262626" textLength="29.51" lengthAdjust="spacingAndGlyphs">1.4</text>
<text x="63.9" y="1477.55" font-size="22" text-anchor="end" fill="#262626" textLength="29.51" lengthAdjust="spacingAndGlyphs">1.2</text>
<path d="M701.5 1081.5V1353.5M772.5 1081.5V1353.5M843.5 1081.5V1353.5M914.5 1081.5V1353.5M985.5 1081.5V1353.5M1056.5 1081.5V1353.5M630.5 1118.5H1127.5M630.5 1172.5H1127.5M630.5 1225.5H1127.5M630.5 1279.5H1127.5M630.5 1333.5H1127.5" stroke="#dfdfdf" stroke-width="1" fill="none"/>
<g shape-rendering="crispEdges">
<polyline points="666,1218.5 701.5,1218.5 737,1217.5 772.5,1218.5 808,1221.5 843.5,1218.5 879,1218.5 914.5,1218.5 950,1217.5 985.5,1217.5 1021,1216.5 1056.5,1216.5 1092,1218.5" fill="none" stroke="#00f" stroke-width="1" stroke-dasharray="1 4.2"/>
<polyline points="666,1212.5 701.5,1213.5 737,1210.5 772.5,1211.5 808,1214.5 843.5,1212.5 879,1212.5 914.5,1212.5 950,1210.5 985.5,1209.5 1021,1209.5 1056.5,1209.5 1092,1211.5" fill="none" stroke="#000" stroke-width="1" stroke-dasharray="12 4 1.5 4"/>
<path d="M659.8 1218.5L672.2 1218.5M666 1212.3L666 1224.7M661.62 1214.12L670.38 1222.88M661.62 1222.88L670.38 1214.12M695.3 1218.5L707.7 1218.5M701.5 1212.3L701.5 1224.7M697.12 1214.12L705.88 1222.88M697.12 1222.88L705.88 1214.12M730.8 1217.5L743.2 1217.5M737 1211.3L737 1223.7M732.62 1213.12L741.38 1221.88M732.62 1221.88L741.38 1213.12M766.3 1218.5L778.7 1218.5M772.5 1212.3L772.5 1224.7M768.12 1214.12L776.88 1222.88M768.12 1222.88L776.88 1214.12M801.8 1221.5L814.2 1221.5M808 1215.3L808 1227.7M803.62 1217.12L812.38 1225.88M803.62 1225.88L812.38 1217.12M837.3 1218.5L849.7 1218.5M843.5 1212.3L843.5 1224.7M839.12 1214.12L847.88 1222.88M839.12 1222.88L847.88 1214.12M872.8 1218.5L885.2 1218.5M879 1212.3L879 1224.7M874.62 1214.12L883.38 1222.88M874.62 1222.88L883.38 1214.12M908.3 1218.5L920.7 1218.5M914.5 1212.3L914.5 1224.7M910.12 1214.12L918.88 1222.88M910.12 1222.88L918.88 1214.12M943.8 1217.5L956.2 1217.5M950 1211.3L950 1223.7M945.62 1213.12L954.38 1221.88M945.62 1221.88L954.38 1213.12M979.3 1217.5L991.7 1217.5M985.5 1211.3L985.5 1223.7M981.12 1213.12L989.88 1221.88M981.12 1221.88L989.88 1213.12M1014.8 1216.5L1027.2 1216.5M1021 1210.3L1021 1222.7M1016.62 1212.12L1025.38 1220.88M1016.62 1220.88L1025.38 1212.12M1050.3 1216.5L1062.7 1216.5M1056.5 1210.3L1056.5 1222.7M1052.12 1212.12L1060.88 1220.88M1052.12 1220.88L1060.88 1212.12M1085.8 1218.5L1098.2 1218.5M1092 1212.3L1092 1224.7M1087.62 1214.12L1096.38 1222.88M1087.62 1222.88L1096.38 1214.12" stroke="#00f" stroke-width="1" fill="none"/>
<circle cx="666" cy="1212.5" r="6" fill="none" stroke="#000" stroke-width="1"/>
<circle cx="701.5" cy="1213.5" r="6" fill="none" stroke="#000" stroke-width="1"/>
<circle cx="737" cy="1210.5" r="6" fill="none" stroke="#000" stroke-width="1"/>
<circle cx="772.5" cy="1211.5" r="6" fill="none" stroke="#000" stroke-width="1"/>
<circle cx="808" cy="1214.5" r="6" fill="none" stroke="#000" stroke-width="1"/>
<circle cx="843.5" cy="1212.5" r="6" fill="none" stroke="#000" stroke-width="1"/>
<circle cx="879" cy="1212.5" r="6" fill="none" stroke="#000" stroke-width="1"/>
<circle cx="914.5" cy="1212.5" r="6" fill="none" stroke="#000" stroke-width="1"/>
<circle cx="950" cy="1210.5" r="6" fill="none" stroke="#000" stroke-width="1"/>
<circle cx="985.5" cy="1209.5" r="6" fill="none" stroke="#000" stroke-width="1"/>
<circle cx="1021" cy="1209.5" r="6" fill="none" stroke="#000" stroke-width="1"/>
<circle cx="1056.5" cy="1209.5" r="6" fill="none" stroke="#000" stroke-width="1"/>
<circle cx="1092" cy="1211.5" r="6" fill="none" stroke="#000" stroke-width="1"/>
<path d="M1021 1193.5H1092" stroke="#0f0" stroke-width="1.2"/>
<circle cx="1021" cy="1193.5" r="2.6" fill="#0f0"/>
<circle cx="1056.5" cy="1193.5" r="2.6" fill="#0f0"/>
<circle cx="1092" cy="1193.5" r="2.6" fill="#0f0"/>
</g>
<path d="M630.5 1353.5v-3.6M630.5 1081.5v3.6M701.5 1353.5v-3.6M701.5 1081.5v3.6M772.5 1353.5v-3.6M772.5 1081.5v3.6M843.5 1353.5v-3.6M843.5 1081.5v3.6M914.5 1353.5v-3.6M914.5 1081.5v3.6M985.5 1353.5v-3.6M985.5 1081.5v3.6M1056.5 1353.5v-3.6M1056.5 1081.5v3.6M1127.5 1353.5v-3.6M1127.5 1081.5v3.6M630.5 1118.5h3.6M1127.5 1118.5h-3.6M630.5 1172.5h3.6M1127.5 1172.5h-3.6M630.5 1225.5h3.6M1127.5 1225.5h-3.6M630.5 1279.5h3.6M1127.5 1279.5h-3.6M630.5 1333.5h3.6M1127.5 1333.5h-3.6" stroke="#262626" stroke-width="1" fill="none"/>
<rect x="630.5" y="1081.5" width="497" height="272" fill="none" stroke="#262626" stroke-width="1"/>
<text x="630.5" y="1385.9" font-size="22" text-anchor="middle" fill="#262626" textLength="11.8" lengthAdjust="spacingAndGlyphs">0</text>
<text x="701.5" y="1385.9" font-size="22" text-anchor="middle" fill="#262626" textLength="11.8" lengthAdjust="spacingAndGlyphs">2</text>
<text x="772.5" y="1385.9" font-size="22" text-anchor="middle" fill="#262626" textLength="11.8" lengthAdjust="spacingAndGlyphs">4</text>
<text x="843.5" y="1385.9" font-size="22" text-anchor="middle" fill="#262626" textLength="11.8" lengthAdjust="spacingAndGlyphs">6</text>
<text x="914.5" y="1385.9" font-size="22" text-anchor="middle" fill="#262626" textLength="11.8" lengthAdjust="spacingAndGlyphs">8</text>
<text x="985.5" y="1385.9" font-size="22" text-anchor="middle" fill="#262626" textLength="23.61" lengthAdjust="spacingAndGlyphs">10</text>
<text x="1056.5" y="1385.9" font-size="22" text-anchor="middle" fill="#262626" textLength="23.61" lengthAdjust="spacingAndGlyphs">12</text>
<text x="1127.5" y="1385.9" font-size="22" text-anchor="middle" fill="#262626" textLength="23.61" lengthAdjust="spacingAndGlyphs">14</text>
<text x="879" y="1419.5" font-size="22.9" text-anchor="middle" fill="#262626" textLength="309" lengthAdjust="spacingAndGlyphs">Profile Number for SN 20594</text>
<rect x="632.5" y="1434.5" width="492" height="35" fill="#fff" stroke="#262626" stroke-width="1"/>
<path d="M638 1452.5H699" stroke="#00f" stroke-width="1" stroke-dasharray="1 3.3"/>
<path d="M663.3 1452.5L675.7 1452.5M669.5 1446.3L669.5 1458.7M665.12 1448.12L673.88 1456.88M665.12 1456.88L673.88 1448.12" stroke="#00f" stroke-width="1"/>
<text x="707" y="1459.7" font-size="20.8" text-anchor="start" fill="#000" textLength="39.5" lengthAdjust="spacingAndGlyphs">Raw</text>
<path d="M760.5 1452.5H821" stroke="#000" stroke-width="1" stroke-dasharray="8 4 1.5 4"/>
<circle cx="791.5" cy="1452.5" r="6" fill="#fff" stroke="#000" stroke-width="1"/>
<path d="M785.5 1452.5H797.5" stroke="#000" stroke-width="1" stroke-dasharray="8 4 1.5 4"/>
<text x="828.5" y="1459.7" font-size="20.8" text-anchor="start" fill="#000" textLength="30" lengthAdjust="spacingAndGlyphs">Adj</text>
<path d="M872 1452.5H934.5" stroke="#f0f" stroke-width="1.1"/><circle cx="904.3" cy="1452.5" r="2.6" fill="#f0f"/>
<text x="940" y="1459.7" font-size="20.8" text-anchor="start" fill="#000" textLength="47.5" lengthAdjust="spacingAndGlyphs">Atlas</text>
<path d="M1000 1452.5H1062.5" stroke="#0f0" stroke-width="1.1"/><circle cx="1032.2" cy="1452.5" r="2.6" fill="#0f0"/>
<text x="1068.5" y="1459.7" font-size="20.8" text-anchor="start" fill="#000" textLength="49.5" lengthAdjust="spacingAndGlyphs">CARS</text>
<rect x="86.5" y="1008.5" width="7.91" height="15.0" fill="rgb(62,85,144)"/>
<rect x="93.81" y="1008.5" width="7.91" height="15.0" fill="rgb(63,88,149)"/>
<rect x="101.12" y="1008.5" width="7.91" height="15.0" fill="rgb(64,90,154)"/>
<rect x="108.44" y="1008.5" width="7.91" height="15.0" fill="rgb(65,93,159)"/>
<rect x="115.75" y="1008.5" width="7.91" height="15.0" fill="rgb(66,95,164)"/>
<rect x="123.06" y="1008.5" width="7.91" height="15.0" fill="rgb(67,99,172)"/>
<rect x="130.38" y="1008.5" width="7.91" height="15.0" fill="rgb(69,104,181)"/>
<rect x="137.69" y="1008.5" width="7.91" height="15.0" fill="rgb(71,109,191)"/>
<rect x="145" y="1008.5" width="7.91" height="15.0" fill="rgb(71,115,194)"/>
<rect x="152.31" y="1008.5" width="7.91" height="15.0" fill="rgb(68,121,188)"/>
<rect x="159.62" y="1008.5" width="7.91" height="15.0" fill="rgb(66,128,184)"/>
<rect x="166.94" y="1008.5" width="7.91" height="15.0" fill="rgb(63,134,177)"/>
<rect x="174.25" y="1008.5" width="7.91" height="15.0" fill="rgb(59,141,168)"/>
<rect x="181.56" y="1008.5" width="7.91" height="15.0" fill="rgb(55,149,158)"/>
<rect x="188.88" y="1008.5" width="7.91" height="15.0" fill="rgb(52,156,149)"/>
<rect x="196.19" y="1008.5" width="7.91" height="15.0" fill="rgb(52,161,140)"/>
<rect x="203.5" y="1008.5" width="7.91" height="15.0" fill="rgb(52,167,131)"/>
<rect x="210.81" y="1008.5" width="7.91" height="15.0" fill="rgb(64,174,128)"/>
<rect x="218.12" y="1008.5" width="7.91" height="15.0" fill="rgb(78,180,126)"/>
<rect x="225.44" y="1008.5" width="7.91" height="15.0" fill="rgb(92,187,126)"/>
<rect x="232.75" y="1008.5" width="7.91" height="15.0" fill="rgb(105,192,129)"/>
<rect x="240.06" y="1008.5" width="7.91" height="15.0" fill="rgb(118,197,132)"/>
<rect x="247.38" y="1008.5" width="7.91" height="15.0" fill="rgb(132,203,135)"/>
<rect x="254.69" y="1008.5" width="7.91" height="15.0" fill="rgb(147,210,139)"/>
<rect x="262" y="1008.5" width="7.91" height="15.0" fill="rgb(163,218,144)"/>
<rect x="269.31" y="1008.5" width="7.91" height="15.0" fill="rgb(178,225,148)"/>
<rect x="276.62" y="1008.5" width="7.91" height="15.0" fill="rgb(188,228,156)"/>
<rect x="283.94" y="1008.5" width="7.91" height="15.0" fill="rgb(198,230,164)"/>
<rect x="291.25" y="1008.5" width="7.91" height="15.0" fill="rgb(205,230,174)"/>
<rect x="298.56" y="1008.5" width="7.91" height="15.0" fill="rgb(209,225,187)"/>
<rect x="305.88" y="1008.5" width="7.91" height="15.0" fill="rgb(212,220,199)"/>
<rect x="313.19" y="1008.5" width="7.91" height="15.0" fill="rgb(212,214,208)"/>
<rect x="320.5" y="1008.5" width="7.91" height="15.0" fill="rgb(213,213,211)"/>
<rect x="327.81" y="1008.5" width="7.91" height="15.0" fill="rgb(214,214,208)"/>
<rect x="335.12" y="1008.5" width="7.91" height="15.0" fill="rgb(216,216,205)"/>
<rect x="342.44" y="1008.5" width="7.91" height="15.0" fill="rgb(219,219,192)"/>
<rect x="349.75" y="1008.5" width="7.91" height="15.0" fill="rgb(222,222,178)"/>
<rect x="357.06" y="1008.5" width="7.91" height="15.0" fill="rgb(225,225,164)"/>
<rect x="364.38" y="1008.5" width="7.91" height="15.0" fill="rgb(228,226,149)"/>
<rect x="371.69" y="1008.5" width="7.91" height="15.0" fill="rgb(230,227,134)"/>
<rect x="379" y="1008.5" width="7.91" height="15.0" fill="rgb(232,228,119)"/>
<rect x="386.31" y="1008.5" width="7.91" height="15.0" fill="rgb(238,224,9)"/>
<rect x="393.62" y="1008.5" width="7.91" height="15.0" fill="rgb(241,217,7)"/>
<rect x="400.94" y="1008.5" width="7.91" height="15.0" fill="rgb(243,210,4)"/>
<rect x="408.25" y="1008.5" width="7.91" height="15.0" fill="rgb(245,202,1)"/>
<rect x="415.56" y="1008.5" width="7.91" height="15.0" fill="rgb(247,193,0)"/>
<rect x="422.88" y="1008.5" width="7.91" height="15.0" fill="rgb(249,184,0)"/>
<rect x="430.19" y="1008.5" width="7.91" height="15.0" fill="rgb(251,175,0)"/>
<rect x="437.5" y="1008.5" width="7.91" height="15.0" fill="rgb(252,165,0)"/>
<rect x="444.81" y="1008.5" width="7.91" height="15.0" fill="rgb(253,156,0)"/>
<rect x="452.12" y="1008.5" width="7.91" height="15.0" fill="rgb(254,147,0)"/>
<rect x="459.44" y="1008.5" width="7.91" height="15.0" fill="rgb(255,136,0)"/>
<rect x="466.75" y="1008.5" width="7.91" height="15.0" fill="rgb(253,124,0)"/>
<rect x="474.06" y="1008.5" width="7.91" height="15.0" fill="rgb(251,111,0)"/>
<rect x="481.38" y="1008.5" width="7.91" height="15.0" fill="rgb(250,99,0)"/>
<rect x="488.69" y="1008.5" width="7.91" height="15.0" fill="rgb(245,86,2)"/>
<rect x="496" y="1008.5" width="7.91" height="15.0" fill="rgb(240,74,3)"/>
<rect x="503.31" y="1008.5" width="7.91" height="15.0" fill="rgb(235,61,5)"/>
<rect x="510.62" y="1008.5" width="7.91" height="15.0" fill="rgb(230,50,7)"/>
<rect x="517.94" y="1008.5" width="7.91" height="15.0" fill="rgb(215,5,10)"/>
<rect x="525.25" y="1008.5" width="7.91" height="15.0" fill="rgb(206,0,14)"/>
<rect x="532.56" y="1008.5" width="7.91" height="15.0" fill="rgb(197,0,19)"/>
<rect x="539.88" y="1008.5" width="7.91" height="15.0" fill="rgb(185,0,24)"/>
<rect x="547.19" y="1008.5" width="7.91" height="15.0" fill="rgb(172,0,29)"/>
<rect x="86.5" y="1008.5" width="468.0" height="15.0" fill="none" stroke="#262626" stroke-width="1"/>
<path d="M203.5 1023.5v-4M320.5 1023.5v-4M437.5 1023.5v-4" stroke="#262626" stroke-width="1"/>
<text x="84.7" y="1052.5" font-size="18.75" text-anchor="middle" fill="#262626" textLength="30.37" lengthAdjust="spacingAndGlyphs">-0.1</text>
<text x="202" y="1052.5" font-size="18.75" text-anchor="middle" fill="#262626" textLength="40.17" lengthAdjust="spacingAndGlyphs">-0.05</text>
<text x="321" y="1052.5" font-size="18.75" text-anchor="middle" fill="#262626" textLength="9.8" lengthAdjust="spacingAndGlyphs">0</text>
<text x="438" y="1052.5" font-size="18.75" text-anchor="middle" fill="#262626" textLength="34.3" lengthAdjust="spacingAndGlyphs">0.05</text>
<text x="553.7" y="1052.5" font-size="18.75" text-anchor="middle" fill="#262626" textLength="24.5" lengthAdjust="spacingAndGlyphs">0.1</text>
<text x="320.6" y="83.5" font-size="23.4" text-anchor="middle" fill="#000" font-weight="bold" textLength="399" lengthAdjust="spacingAndGlyphs">Profile Positions: *=start; 0 = DMQC</text>
<text x="879" y="83.5" font-size="23.4" text-anchor="middle" fill="#000" font-weight="bold" textLength="366" lengthAdjust="spacingAndGlyphs" xml:space="preserve">Raw Float - WHOI Atlas  7900890</text>
<text x="320.6" y="577.5" font-size="23.4" text-anchor="middle" fill="#000" font-weight="bold" textLength="281" lengthAdjust="spacingAndGlyphs" xml:space="preserve">Adj Float - Atlas  7900890</text>
<text x="879" y="577.5" font-size="23.4" text-anchor="middle" fill="#000" font-weight="bold" textLength="292" lengthAdjust="spacingAndGlyphs" xml:space="preserve">Raw Float - CARS  7900890</text>
<text x="157" y="1070.8" font-size="23.4" text-anchor="start" fill="#000" font-weight="bold" textLength="301" lengthAdjust="spacingAndGlyphs">Raw Float - mean(Float) on</text>
<text x="465.5" y="1070.8" font-size="25" class="m" fill="#000">θ</text>
<text x="785.7" y="1070.8" font-size="23.4" text-anchor="start" fill="#000" font-weight="bold" textLength="47.5" lengthAdjust="spacingAndGlyphs">S on</text>
<text x="840" y="1070.8" font-size="25" class="m" fill="#000">θ</text>
<text x="858" y="1070.8" font-size="23.4" text-anchor="start" fill="#000" font-weight="bold" textLength="90.5" lengthAdjust="spacingAndGlyphs">= 1.7581</text>
<text x="950.8" y="1060" font-size="18.5" text-anchor="start" fill="#000" font-weight="bold">o</text>
<text x="963.2" y="1070.8" font-size="23.4" text-anchor="start" fill="#000" font-weight="bold" textLength="14.4" lengthAdjust="spacingAndGlyphs">C</text>
<text x="878.9" y="1051.5" font-size="22.9" text-anchor="middle" fill="#262626" textLength="163.3" lengthAdjust="spacingAndGlyphs">Profile Number</text>
<text x="320.6" y="1544.5" font-size="22.9" text-anchor="middle" fill="#262626" textLength="164" lengthAdjust="spacingAndGlyphs">Profile Number</text>
<g transform="translate(20 787.5) rotate(-90)" fill="#262626"><text x="-21" y="0" font-size="23.5" class="m">θ</text><text x="-4.4" y="-11.4" font-size="17">o</text><text x="7.4" y="0" font-size="24.5" textLength="14.8" lengthAdjust="spacingAndGlyphs">C</text></g>
<g transform="translate(20 1280.5) rotate(-90)" fill="#262626"><text x="-21" y="0" font-size="23.5" class="m">θ</text><text x="-4.4" y="-11.4" font-size="17">o</text><text x="7.4" y="0" font-size="24.5" textLength="14.8" lengthAdjust="spacingAndGlyphs">C</text></g>
<text x="120" y="1549.6" font-size="16.67" text-anchor="start" fill="#000" textLength="189" lengthAdjust="spacingAndGlyphs">Argo WHOI 12-Feb-2026</text>
<text x="767" y="1549.6" font-size="16.67" text-anchor="start" fill="#000" textLength="122" lengthAdjust="spacingAndGlyphs">JAMSTEC at jma</text>
</svg>
</body></html>
